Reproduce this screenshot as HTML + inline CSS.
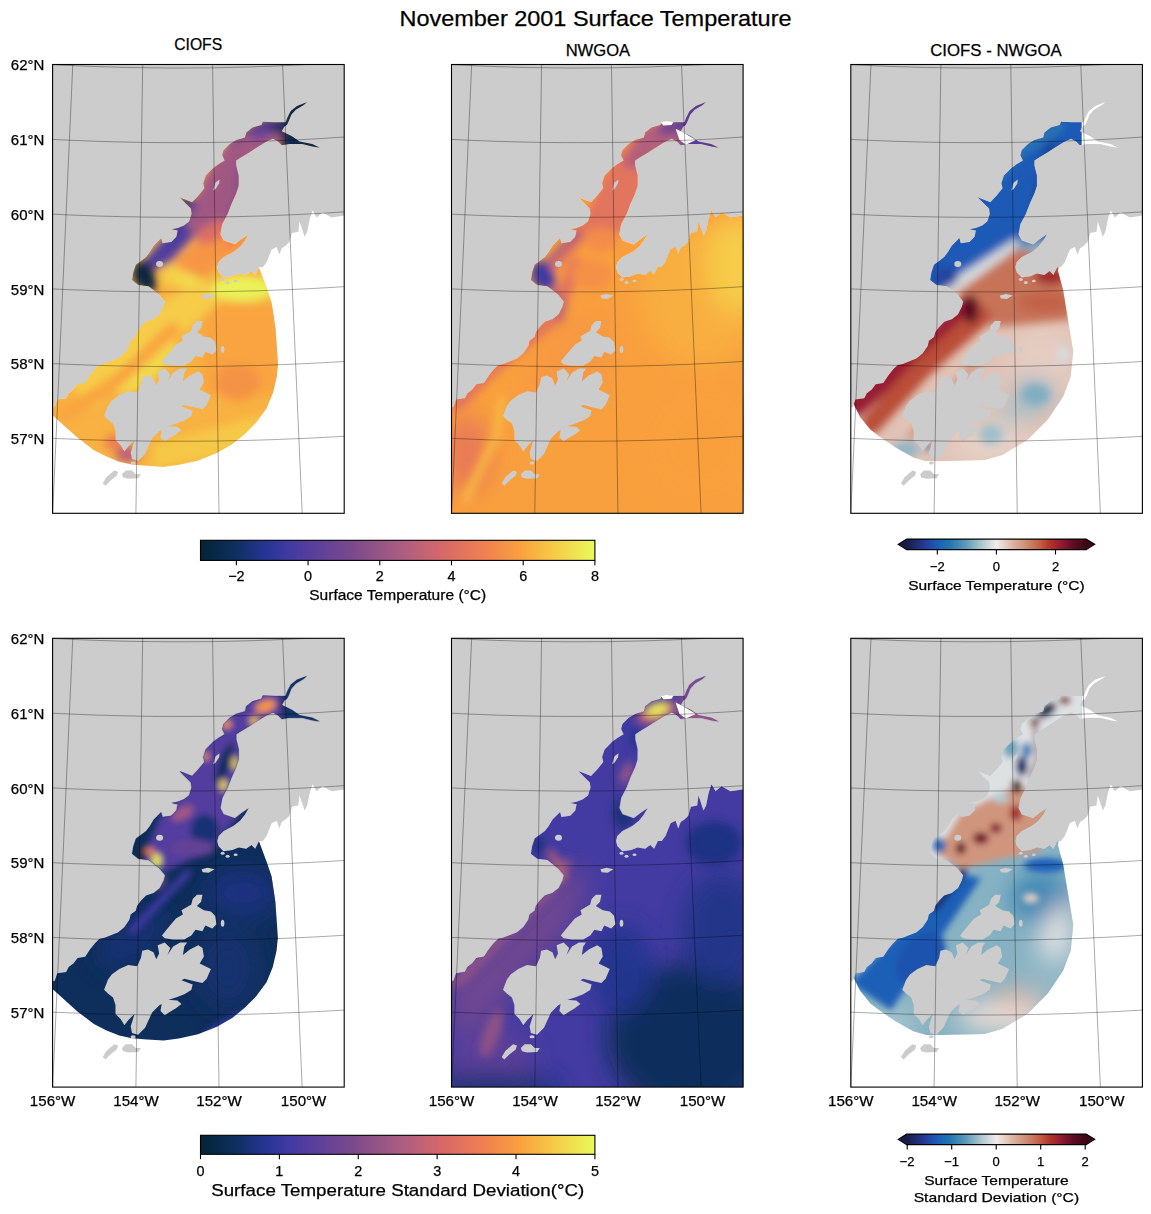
<!DOCTYPE html><html><head><meta charset="utf-8"><style>html,body{margin:0;padding:0;background:#fff;width:1151px;height:1214px;overflow:hidden}svg{display:block}text{font-family:"Liberation Sans", sans-serif;fill:#000;stroke:#000;stroke-width:0.25px}</style></head><body>
<svg width="1151" height="1214" viewBox="0 0 1151 1214">
<defs><clipPath id="sea"><path d="M-2.0 343.0L2.0 342.6L4.6 335.0L13.5 333.7L16.0 328.7L21.0 324.9L24.9 319.8L32.5 318.5L37.5 310.9L42.6 304.6L47.0 300.5L52.0 299.5L65.5 294.1L71.8 289.0L76.9 281.4L78.1 276.3L83.2 272.5L84.5 267.5L88.3 262.4L93.4 257.3L101.0 254.8L107.3 249.7L111.1 242.1L112.4 237.0L107.3 230.7L101.0 225.6L95.9 221.8L85.7 220.5L79.4 215.5L80.7 207.8L83.2 200.2L88.3 196.4L93.4 192.6L97.2 187.6L101.0 181.2L103.5 178.7L108.6 173.6L109.9 178.7L118.7 177.4L123.8 172.3L125.1 166.0L118.7 164.7L125.1 163.5L131.4 160.9L136.5 157.1L139.0 149.5L138.3 144.1L126.8 132.7L139.5 137.8L145.5 131.4L151.8 123.8L150.6 118.7L153.1 111.1L160.7 103.5L165.8 99.7L172.1 95.9L169.6 90.8L170.9 85.7L177.2 79.4L183.6 75.6L192.4 73.1L193.7 68.0L200.0 62.9L208.9 60.4L210.2 57.2L221.6 57.8L233.0 57.8L234.9 52.8L238.1 46.4L244.4 41.4L254.6 37.6L250.8 40.7L243.2 45.2L238.7 50.2L236.2 56.6L234.3 60.4L231.8 62.0L229.2 66.7L239.4 71.8L247.0 76.9L259.7 79.4L267.3 83.2L259.7 81.9L249.5 79.4L236.8 79.4L229.2 80.7L225.4 76.9L220.3 74.3L214.0 76.9L203.9 83.2L196.2 88.3L187.4 93.4L183.6 95.9L183.6 101.0L186.1 111.1L186.1 121.3L183.6 128.9L179.0 139.0L175.0 149.5L169.6 159.6L167.7 169.8L170.9 176.1L182.3 179.9L188.6 174.9L196.2 169.8L192.4 176.1L187.4 182.5L181.0 187.5L170.9 192.6L165.8 197.7L164.5 202.8L165.8 207.8L170.9 212.9L179.7 211.7L186.1 209.1L193.7 210.4L198.8 206.6L202.6 210.4L206.4 202.8L210.2 202.8L214.0 197.7L216.5 191.4L219.1 185.0L224.1 182.5L226.7 190.1L229.2 183.7L233.0 181.2L236.8 177.4L239.4 168.5L245.7 167.3L247.0 157.1L252.0 172.3L254.6 167.3L257.1 154.6L260.0 146.0L264.0 153.0L270.0 148.0L279.0 153.0L293.0 151.0L294.0 151.0L294.0 451.0L-2.0 451.0Z"/></clipPath><clipPath id="domc"><path d="M-2.0 -2.0L272.0 -2.0L272.0 95.0L215.0 140.0L206.0 195.0L206.3 202.8L213.9 223.1L219.0 238.3L222.8 263.7L225.3 299.5L224.0 312.2L220.2 328.7L213.9 343.9L203.7 357.8L192.3 369.3L179.6 379.4L164.4 388.3L145.4 395.9L126.2 400.3L111.0 402.2L90.7 401.0L78.0 399.7L66.6 397.2L54.0 392.1L41.3 385.8L24.8 373.1L12.1 361.7L-0.6 350.2L-2.0 349.0Z"/></clipPath><clipPath id="domd"><path d="M-2.0 -2.0L231.0 -2.0L231.0 140.0L210.0 190.0L207.2 206.6L212.3 225.6L217.4 256.5L222.4 286.5L219.9 311.9L212.3 332.2L197.1 355.0L176.8 375.3L151.4 390.5L133.7 395.6L90.5 396.8L75.3 396.8L62.6 393.0L44.9 382.9L29.6 372.7L19.5 365.1L9.3 352.4L1.7 337.2L-2.0 337.0Z"/></clipPath><filter id="b3" filterUnits="userSpaceOnUse" x="-60" y="-60" width="420" height="570"><feGaussianBlur stdDeviation="3"/></filter><filter id="b4" filterUnits="userSpaceOnUse" x="-60" y="-60" width="420" height="570"><feGaussianBlur stdDeviation="4"/></filter><filter id="b5" filterUnits="userSpaceOnUse" x="-60" y="-60" width="420" height="570"><feGaussianBlur stdDeviation="5"/></filter><filter id="b6" filterUnits="userSpaceOnUse" x="-60" y="-60" width="420" height="570"><feGaussianBlur stdDeviation="6"/></filter><filter id="b8" filterUnits="userSpaceOnUse" x="-60" y="-60" width="420" height="570"><feGaussianBlur stdDeviation="8"/></filter><filter id="b12" filterUnits="userSpaceOnUse" x="-60" y="-60" width="420" height="570"><feGaussianBlur stdDeviation="12"/></filter><linearGradient id="gth" x1="0" x2="1" y1="0" y2="0"><stop offset="0" stop-color="#042333"/><stop offset="0.09" stop-color="#0f2f60"/><stop offset="0.17" stop-color="#273596"/><stop offset="0.22" stop-color="#3f3aa2"/><stop offset="0.27" stop-color="#533d9e"/><stop offset="0.39" stop-color="#7c4a8b"/><stop offset="0.45" stop-color="#945585"/><stop offset="0.51" stop-color="#ab5d81"/><stop offset="0.61" stop-color="#d5686a"/><stop offset="0.72" stop-color="#f08050"/><stop offset="0.81" stop-color="#f9a03e"/><stop offset="0.9" stop-color="#f6cc48"/><stop offset="1" stop-color="#e8fa5b"/></linearGradient><linearGradient id="gba" gradientUnits="userSpaceOnUse" x1="906.7" x2="1086.1" y1="0" y2="0"><stop offset="0" stop-color="#181c43"/><stop offset="0.1" stop-color="#263a96"/><stop offset="0.17" stop-color="#1a5cb8"/><stop offset="0.24" stop-color="#2276b0"/><stop offset="0.33" stop-color="#5d9ab8"/><stop offset="0.41" stop-color="#a8c4cc"/><stop offset="0.5" stop-color="#f1ecea"/><stop offset="0.59" stop-color="#dcb5a4"/><stop offset="0.67" stop-color="#cc8a70"/><stop offset="0.75" stop-color="#bf5a40"/><stop offset="0.8" stop-color="#b03426"/><stop offset="0.86" stop-color="#921a32"/><stop offset="0.93" stop-color="#5c0d24"/><stop offset="1" stop-color="#3c0912"/></linearGradient></defs>
<rect width="1151" height="1214" fill="#fff"/>
<text x="595.5" y="25.6" font-size="21.8" text-anchor="middle" textLength="392" lengthAdjust="spacingAndGlyphs">November 2001 Surface Temperature</text>
<text x="198.2" y="49.9" font-size="16.7" text-anchor="middle" textLength="48" lengthAdjust="spacingAndGlyphs">CIOFS</text>
<text x="597.9" y="55.6" font-size="16.7" text-anchor="middle" textLength="64.5" lengthAdjust="spacingAndGlyphs">NWGOA</text>
<text x="996" y="55.9" font-size="16.7" text-anchor="middle" textLength="131.5" lengthAdjust="spacingAndGlyphs">CIOFS - NWGOA</text>
<g transform="translate(52.6 64.5)">
<clipPath id="c00"><rect width="291.6" height="448.8"/></clipPath>
<g clip-path="url(#c00)">
<rect width="292" height="449" fill="#cccccc"/><path d="M-2.0 343.0L2.0 342.6L4.6 335.0L13.5 333.7L16.0 328.7L21.0 324.9L24.9 319.8L32.5 318.5L37.5 310.9L42.6 304.6L47.0 300.5L52.0 299.5L65.5 294.1L71.8 289.0L76.9 281.4L78.1 276.3L83.2 272.5L84.5 267.5L88.3 262.4L93.4 257.3L101.0 254.8L107.3 249.7L111.1 242.1L112.4 237.0L107.3 230.7L101.0 225.6L95.9 221.8L85.7 220.5L79.4 215.5L80.7 207.8L83.2 200.2L88.3 196.4L93.4 192.6L97.2 187.6L101.0 181.2L103.5 178.7L108.6 173.6L109.9 178.7L118.7 177.4L123.8 172.3L125.1 166.0L118.7 164.7L125.1 163.5L131.4 160.9L136.5 157.1L139.0 149.5L138.3 144.1L126.8 132.7L139.5 137.8L145.5 131.4L151.8 123.8L150.6 118.7L153.1 111.1L160.7 103.5L165.8 99.7L172.1 95.9L169.6 90.8L170.9 85.7L177.2 79.4L183.6 75.6L192.4 73.1L193.7 68.0L200.0 62.9L208.9 60.4L210.2 57.2L221.6 57.8L233.0 57.8L234.9 52.8L238.1 46.4L244.4 41.4L254.6 37.6L250.8 40.7L243.2 45.2L238.7 50.2L236.2 56.6L234.3 60.4L231.8 62.0L229.2 66.7L239.4 71.8L247.0 76.9L259.7 79.4L267.3 83.2L259.7 81.9L249.5 79.4L236.8 79.4L229.2 80.7L225.4 76.9L220.3 74.3L214.0 76.9L203.9 83.2L196.2 88.3L187.4 93.4L183.6 95.9L183.6 101.0L186.1 111.1L186.1 121.3L183.6 128.9L179.0 139.0L175.0 149.5L169.6 159.6L167.7 169.8L170.9 176.1L182.3 179.9L188.6 174.9L196.2 169.8L192.4 176.1L187.4 182.5L181.0 187.5L170.9 192.6L165.8 197.7L164.5 202.8L165.8 207.8L170.9 212.9L179.7 211.7L186.1 209.1L193.7 210.4L198.8 206.6L202.6 210.4L206.4 202.8L210.2 202.8L214.0 197.7L216.5 191.4L219.1 185.0L224.1 182.5L226.7 190.1L229.2 183.7L233.0 181.2L236.8 177.4L239.4 168.5L245.7 167.3L247.0 157.1L252.0 172.3L254.6 167.3L257.1 154.6L260.0 146.0L264.0 153.0L270.0 148.0L279.0 153.0L293.0 151.0L294.0 151.0L294.0 451.0L-2.0 451.0Z" fill="#fff"/><g clip-path="url(#domc)"><g clip-path="url(#sea)"><rect x="-5" y="-5" width="302" height="460" fill="#f8b142"/><g filter="url(#b4)"><path d="M150.0 240.0L230.0 240.0L230.0 330.0L150.0 330.0Z" fill="#f9a43f" fill-opacity="1"/><ellipse cx="185" cy="318" rx="22" ry="18" fill="#f59345" fill-opacity="1"/><path d="M0.0 300.0L150.0 215.0L170.0 235.0L40.0 345.0Z" fill="#f6cc48" fill-opacity="1"/><ellipse cx="90" cy="300" rx="40" ry="18" fill="#f2d94d" fill-opacity="1" transform="rotate(-40 90 300)"/><ellipse cx="190" cy="224" rx="32" ry="13" fill="#ebf258" fill-opacity="1"/><ellipse cx="130" cy="208" rx="22" ry="12" fill="#f5d04a" fill-opacity="1" transform="rotate(-20 130 208)"/><ellipse cx="140" cy="214" rx="16" ry="8" fill="#f2d94d" fill-opacity="1" transform="rotate(-20 140 214)"/><path d="M100.0 380.0L210.0 350.0L200.0 385.0L100.0 405.0Z" fill="#f6c847" fill-opacity="1"/><path d="M12 350L60 320L120 265" fill="none" stroke="#f9a43f" stroke-width="14" stroke-opacity="1" stroke-linecap="round" stroke-linejoin="round"/><ellipse cx="75" cy="390" rx="12" ry="8" fill="#ba6179" fill-opacity="1"/><ellipse cx="62" cy="378" rx="10" ry="8" fill="#ed7e53" fill-opacity="1"/><path d="M120.0 200.0L175.0 150.0L195.0 175.0L150.0 215.0Z" fill="#f69644" fill-opacity="1"/><path d="M135.0 150.0L150.0 115.0L165.0 90.0L190.0 65.0L215.0 52.0L235.0 52.0L240.0 70.0L200.0 95.0L192.0 130.0L185.0 160.0L160.0 172.0L140.0 170.0Z" fill="#a05983" fill-opacity="1"/><ellipse cx="213" cy="66" rx="16" ry="7" fill="#674395" fill-opacity="1" transform="rotate(-25 213 66)"/><ellipse cx="160" cy="168" rx="18" ry="9" fill="#db6e64" fill-opacity="1" transform="rotate(-30 160 168)"/><path d="M228.0 25.0L280.0 25.0L280.0 95.0L228.0 95.0Z" fill="#0b2a4e" fill-opacity="1"/><path d="M232 58L210 57L195 66L175 80" fill="none" stroke="#35389d" stroke-width="4" stroke-opacity="1" stroke-linecap="round" stroke-linejoin="round"/><path d="M187 105L187 130L178 150" fill="none" stroke="#634296" stroke-width="4" stroke-opacity="1" stroke-linecap="round" stroke-linejoin="round"/><path d="M140 140L118 175L100 198" fill="none" stroke="#604198" stroke-width="9" stroke-opacity="1" stroke-linecap="round" stroke-linejoin="round"/><path d="M118.0 165.0L135.0 158.0L142.0 172.0L118.0 198.0L100.0 206.0L88.0 200.0Z" fill="#5a3f9b" fill-opacity="1"/><path d="M80.0 202.0L88.0 195.0L98.0 200.0L104.0 214.0L104.0 226.0L92.0 228.0L80.0 216.0Z" fill="#072741" fill-opacity="1"/><path d="M98 196L112 182L126 170" fill="none" stroke="#3e3aa2" stroke-width="7" stroke-opacity="1" stroke-linecap="round" stroke-linejoin="round"/><ellipse cx="133" cy="137" rx="7" ry="5" fill="#0f2f61" fill-opacity="1"/><ellipse cx="122" cy="165" rx="6" ry="4" fill="#2d3699" fill-opacity="1"/><ellipse cx="226" cy="62" rx="10" ry="6" fill="#0f2f61" fill-opacity="1"/><path d="M192 66L212 58L232 57" fill="none" stroke="#1a3279" stroke-width="4" stroke-opacity="1" stroke-linecap="round" stroke-linejoin="round"/><ellipse cx="183" cy="176" rx="12" ry="6" fill="#f1834f" fill-opacity="1" transform="rotate(-35 183 176)"/></g></g></g><path d="M167.0 115.0L163.0 118.0L160.5 126.0L163.0 124.5L166.5 119.0Z" fill="#cccccc"/><path d="M109.3 297.1L114.9 290.1L123.3 280.3L130.3 276.1L128.9 271.9L138.7 266.3L140.1 260.7L144.3 256.5L149.9 256.5L148.5 263.5L144.3 267.7L151.3 271.9L158.3 273.3L162.5 277.5L163.9 285.9L159.7 290.1L152.7 287.3L149.9 292.9L142.9 291.5L138.7 297.1L131.7 301.3L120.5 301.3L112.1 299.9Z" fill="#cccccc"/><path d="M71.8 387.0L68.0 380.7L62.9 375.6L62.9 366.7L60.4 359.1L55.3 355.3L51.5 351.5L55.3 341.4L59.1 336.3L66.7 330.6L75.6 326.8L84.5 328.0L88.3 319.8L89.7 312.5L95.3 311.1L100.9 313.9L103.7 320.9L106.5 315.3L105.1 306.9L112.1 304.1L117.7 309.7L114.9 316.7L120.5 308.3L127.5 304.1L134.5 304.1L131.7 308.3L130.3 316.7L137.3 311.1L145.7 306.9L149.9 309.7L151.3 318.1L147.1 325.1L158.3 330.7L154.1 340.5L149.9 344.7L142.9 343.3L131.7 340.5L128.9 341.9L140.1 346.1L138.7 351.7L131.7 355.9L124.7 358.7L116.3 361.5L106.5 367.1L99.5 374.1L92.5 389.5L85.5 396.5L79.4 394.6L78.1 388.3L81.9 375.6L75.6 381.9Z" fill="#cccccc"/><path d="M109.3 364.3L114.9 361.5L124.7 362.2L128.9 365.7L123.3 369.9L116.3 374.1L112.1 376.9L107.9 372.7Z" fill="#cccccc"/><path d="M50.2 418.7L54.0 412.4L61.6 406.0L65.5 407.3L64.2 411.1L57.8 416.2L52.8 421.3Z" fill="#cccccc"/><path d="M69.3 409.8L73.1 406.0L79.4 406.0L83.2 409.8L88.3 409.8L85.7 413.7L75.6 414.3L70.5 413.0Z" fill="#cccccc"/><path d="M149.0 231.0L155.0 229.5L162.0 231.0L156.0 234.5L150.0 234.0Z" fill="#cccccc"/><ellipse cx="107" cy="199.5" rx="3.5" ry="3" fill="#cccccc"/><ellipse cx="170" cy="215" rx="2" ry="1.5" fill="#cccccc"/><ellipse cx="175" cy="218" rx="2" ry="1.5" fill="#cccccc"/><ellipse cx="183" cy="216.5" rx="2" ry="1.3" fill="#cccccc"/><ellipse cx="170" cy="285" rx="1.8" ry="3.5" fill="#cccccc"/><ellipse cx="80.5" cy="398.5" rx="2.5" ry="1.5" fill="#cccccc"/>
</g></g>
<g transform="translate(52.6 64.5)">
<g clip-path="url(#c00)">
<path d="M-1.6 485.9L21.8 -36.2 M82.7 488.4L90.6 -34.1 M167 488.4L159.5 -34.1 M251.2 486L228.4 -36.1 M-77.5 369.2L-67.4 369.9L-57.3 370.6L-47.2 371.3L-37.1 371.9L-26.9 372.5L-16.8 373L-6.7 373.5L3.4 374L13.5 374.4L23.6 374.8L33.7 375.2L43.9 375.5L54 375.8L64.1 376L74.2 376.3L84.4 376.4L94.5 376.6L104.6 376.7L114.7 376.7L124.9 376.7L135 376.7L145.1 376.7L155.2 376.6L165.4 376.5L175.5 376.3L185.6 376.1L195.7 375.9L205.9 375.6L216 375.3L226.1 374.9L236.2 374.5L246.3 374.1L256.4 373.7L266.6 373.2L276.7 372.6L286.8 372.1L296.9 371.4L307 370.8L317.1 370.1L327.2 369.4L337.3 368.6L347.4 367.8L357.5 367L367.6 366.1 M-71.9 294.7L-62.1 295.5L-52.3 296.1L-42.4 296.8L-32.6 297.4L-22.8 297.9L-12.9 298.5L-3.1 299L6.7 299.4L16.6 299.8L26.4 300.2L36.3 300.6L46.1 300.9L56 301.2L65.8 301.4L75.6 301.6L85.5 301.8L95.3 301.9L105.2 302L115 302.1L124.9 302.1L134.7 302.1L144.6 302L154.4 302L164.3 301.8L174.1 301.7L184 301.5L193.8 301.2L203.7 301L213.5 300.7L223.4 300.3L233.2 300L243.1 299.5L252.9 299.1L262.7 298.6L272.6 298.1L282.4 297.5L292.2 296.9L302.1 296.3L311.9 295.6L321.7 294.9L331.5 294.2L341.4 293.4L351.2 292.6L361 291.8 M-66.4 220.3L-56.8 221L-47.3 221.6L-37.7 222.3L-28.2 222.9L-18.6 223.4L-9.1 223.9L0.5 224.4L10.1 224.9L19.6 225.3L29.2 225.6L38.8 226L48.3 226.3L57.9 226.6L67.5 226.8L77.1 227L86.6 227.1L96.2 227.3L105.8 227.4L115.4 227.4L124.9 227.4L134.5 227.4L144.1 227.4L153.7 227.3L163.2 227.2L172.8 227L182.4 226.8L191.9 226.6L201.5 226.4L211.1 226.1L220.7 225.7L230.2 225.4L239.8 225L249.4 224.5L258.9 224.1L268.5 223.5L278 223L287.6 222.4L297.2 221.8L306.7 221.2L316.3 220.5L325.8 219.8L335.4 219L344.9 218.2L354.4 217.4 M-60.9 145.9L-51.6 146.5L-42.3 147.2L-33 147.8L-23.7 148.3L-14.5 148.9L-5.2 149.4L4.1 149.8L13.4 150.3L22.7 150.7L32 151L41.3 151.4L50.6 151.7L59.9 151.9L69.2 152.2L78.5 152.3L87.8 152.5L97.1 152.6L106.4 152.7L115.7 152.8L125 152.8L134.3 152.8L143.6 152.7L152.9 152.7L162.2 152.5L171.5 152.4L180.8 152.2L190.1 152L199.4 151.7L208.7 151.5L217.9 151.1L227.2 150.8L236.5 150.4L245.8 150L255.1 149.5L264.4 149L273.7 148.5L283 147.9L292.2 147.3L301.5 146.7L310.8 146L320.1 145.3L329.3 144.6L338.6 143.8L347.9 143 M-55.3 71.4L-46.3 72.1L-37.3 72.7L-28.3 73.3L-19.3 73.8L-10.3 74.3L-1.3 74.8L7.7 75.3L16.7 75.7L25.8 76.1L34.8 76.4L43.8 76.8L52.8 77L61.8 77.3L70.9 77.5L79.9 77.7L88.9 77.9L97.9 78L107 78.1L116 78.1L125 78.1L134 78.1L143.1 78.1L152.1 78L161.1 77.9L170.1 77.8L179.1 77.6L188.2 77.4L197.2 77.1L206.2 76.8L215.2 76.5L224.2 76.2L233.3 75.8L242.3 75.4L251.3 75L260.3 74.5L269.3 74L278.3 73.4L287.3 72.8L296.3 72.2L305.3 71.6L314.3 70.9L323.3 70.2L332.3 69.5L341.3 68.7 M-49.8 -3L-41.1 -2.4L-32.3 -1.8L-23.6 -1.2L-14.9 -0.7L-6.1 -0.2L2.6 0.3L11.3 0.7L20.1 1.1L28.8 1.5L37.6 1.8L46.3 2.2L55.1 2.4L63.8 2.7L72.5 2.9L81.3 3.1L90 3.2L98.8 3.3L107.5 3.4L116.3 3.5L125 3.5L133.8 3.5L142.5 3.4L151.3 3.4L160 3.3L168.8 3.1L177.5 2.9L186.3 2.7L195 2.5L203.8 2.2L212.5 1.9L221.3 1.6L230 1.2L238.7 0.8L247.5 0.4L256.2 -0.1L264.9 -0.6L273.7 -1.1L282.4 -1.6L291.1 -2.2L299.9 -2.9L308.6 -3.5L317.3 -4.2L326 -4.9L334.8 -5.7" fill="none" stroke="#000" stroke-opacity="0.45" stroke-width="0.75"/>
</g>
<rect width="291.6" height="448.8" fill="none" stroke="#000" stroke-width="1.1"/>
</g>
<g transform="translate(451.5 64.5)">
<clipPath id="c01"><rect width="291.6" height="448.8"/></clipPath>
<g clip-path="url(#c01)">
<rect width="292" height="449" fill="#cccccc"/><path d="M-2.0 343.0L2.0 342.6L4.6 335.0L13.5 333.7L16.0 328.7L21.0 324.9L24.9 319.8L32.5 318.5L37.5 310.9L42.6 304.6L47.0 300.5L52.0 299.5L65.5 294.1L71.8 289.0L76.9 281.4L78.1 276.3L83.2 272.5L84.5 267.5L88.3 262.4L93.4 257.3L101.0 254.8L107.3 249.7L111.1 242.1L112.4 237.0L107.3 230.7L101.0 225.6L95.9 221.8L85.7 220.5L79.4 215.5L80.7 207.8L83.2 200.2L88.3 196.4L93.4 192.6L97.2 187.6L101.0 181.2L103.5 178.7L108.6 173.6L109.9 178.7L118.7 177.4L123.8 172.3L125.1 166.0L118.7 164.7L125.1 163.5L131.4 160.9L136.5 157.1L139.0 149.5L138.3 144.1L126.8 132.7L139.5 137.8L145.5 131.4L151.8 123.8L150.6 118.7L153.1 111.1L160.7 103.5L165.8 99.7L172.1 95.9L169.6 90.8L170.9 85.7L177.2 79.4L183.6 75.6L192.4 73.1L193.7 68.0L200.0 62.9L208.9 60.4L210.2 57.2L221.6 57.8L233.0 57.8L234.9 52.8L238.1 46.4L244.4 41.4L254.6 37.6L250.8 40.7L243.2 45.2L238.7 50.2L236.2 56.6L234.3 60.4L231.8 62.0L229.2 66.7L239.4 71.8L247.0 76.9L259.7 79.4L267.3 83.2L259.7 81.9L249.5 79.4L236.8 79.4L229.2 80.7L225.4 76.9L220.3 74.3L214.0 76.9L203.9 83.2L196.2 88.3L187.4 93.4L183.6 95.9L183.6 101.0L186.1 111.1L186.1 121.3L183.6 128.9L179.0 139.0L175.0 149.5L169.6 159.6L167.7 169.8L170.9 176.1L182.3 179.9L188.6 174.9L196.2 169.8L192.4 176.1L187.4 182.5L181.0 187.5L170.9 192.6L165.8 197.7L164.5 202.8L165.8 207.8L170.9 212.9L179.7 211.7L186.1 209.1L193.7 210.4L198.8 206.6L202.6 210.4L206.4 202.8L210.2 202.8L214.0 197.7L216.5 191.4L219.1 185.0L224.1 182.5L226.7 190.1L229.2 183.7L233.0 181.2L236.8 177.4L239.4 168.5L245.7 167.3L247.0 157.1L252.0 172.3L254.6 167.3L257.1 154.6L260.0 146.0L264.0 153.0L270.0 148.0L279.0 153.0L293.0 151.0L294.0 151.0L294.0 451.0L-2.0 451.0Z" fill="#fff"/><g clip-path="url(#sea)"><rect x="-5" y="-5" width="302" height="460" fill="#f9a03e"/><g filter="url(#b12)"><ellipse cx="250" cy="230" rx="60" ry="70" fill="#f8af41" fill-opacity="1"/><ellipse cx="285" cy="200" rx="30" ry="50" fill="#f6cc48" fill-opacity="1"/><ellipse cx="120" cy="300" rx="40" ry="60" fill="#f79942" fill-opacity="1" transform="rotate(30 120 300)"/><ellipse cx="250" cy="380" rx="60" ry="60" fill="#f9a03e" fill-opacity="1"/><ellipse cx="15" cy="390" rx="25" ry="40" fill="#e97a57" fill-opacity="1"/></g><g filter="url(#b4)"><path d="M5 340L45 300L100 255L125 200" fill="none" stroke="#e2745d" stroke-width="14" stroke-opacity="1" stroke-linecap="round" stroke-linejoin="round"/><path d="M50 335L45 372L30 402L14 435" fill="none" stroke="#f8b643" stroke-width="9" stroke-opacity="1" stroke-linecap="round" stroke-linejoin="round"/><path d="M135.0 150.0L150.0 115.0L165.0 90.0L190.0 65.0L215.0 52.0L235.0 52.0L240.0 70.0L200.0 95.0L192.0 130.0L185.0 160.0L160.0 172.0L140.0 170.0Z" fill="#e2745d" fill-opacity="1"/><path d="M170.0 100.0L190.0 65.0L215.0 52.0L235.0 52.0L240.0 70.0L200.0 95.0L185.0 105.0Z" fill="#b25f7d" fill-opacity="1"/><ellipse cx="220" cy="62" rx="14" ry="7" fill="#6d4592" fill-opacity="1" transform="rotate(-25 220 62)"/><path d="M228.0 25.0L280.0 25.0L280.0 95.0L228.0 95.0Z" fill="#543d9e" fill-opacity="1"/><ellipse cx="150" cy="175" rx="18" ry="12" fill="#f38c49" fill-opacity="1"/><path d="M130 160L110 185L95 205" fill="none" stroke="#db6e64" stroke-width="8" stroke-opacity="1" stroke-linecap="round" stroke-linejoin="round"/><path d="M100 205L125 178L140 150" fill="none" stroke="#e0725f" stroke-width="9" stroke-opacity="1" stroke-linecap="round" stroke-linejoin="round"/><path d="M80.0 202.0L88.0 195.0L98.0 200.0L104.0 214.0L104.0 226.0L92.0 228.0L80.0 216.0Z" fill="#3e3aa2" fill-opacity="1"/><path d="M98 196L112 182L126 170" fill="none" stroke="#965685" stroke-width="6" stroke-opacity="1" stroke-linecap="round" stroke-linejoin="round"/><path d="M100 225L112 240L108 255" fill="none" stroke="#ba6179" stroke-width="7" stroke-opacity="1" stroke-linecap="round" stroke-linejoin="round"/><ellipse cx="140" cy="210" rx="20" ry="15" fill="#f49047" fill-opacity="1"/></g></g><path d="M209.0 57.5L215.0 56.8L222.0 57.5L220.0 60.5L212.0 61.0Z" fill="#fff"/><path d="M224.1 64.2L231.8 68.0L244.4 75.6L234.3 80.2L228.0 75.6Z" fill="#fff"/><path d="M167.0 115.0L163.0 118.0L160.5 126.0L163.0 124.5L166.5 119.0Z" fill="#cccccc"/><path d="M109.3 297.1L114.9 290.1L123.3 280.3L130.3 276.1L128.9 271.9L138.7 266.3L140.1 260.7L144.3 256.5L149.9 256.5L148.5 263.5L144.3 267.7L151.3 271.9L158.3 273.3L162.5 277.5L163.9 285.9L159.7 290.1L152.7 287.3L149.9 292.9L142.9 291.5L138.7 297.1L131.7 301.3L120.5 301.3L112.1 299.9Z" fill="#cccccc"/><path d="M71.8 387.0L68.0 380.7L62.9 375.6L62.9 366.7L60.4 359.1L55.3 355.3L51.5 351.5L55.3 341.4L59.1 336.3L66.7 330.6L75.6 326.8L84.5 328.0L88.3 319.8L89.7 312.5L95.3 311.1L100.9 313.9L103.7 320.9L106.5 315.3L105.1 306.9L112.1 304.1L117.7 309.7L114.9 316.7L120.5 308.3L127.5 304.1L134.5 304.1L131.7 308.3L130.3 316.7L137.3 311.1L145.7 306.9L149.9 309.7L151.3 318.1L147.1 325.1L158.3 330.7L154.1 340.5L149.9 344.7L142.9 343.3L131.7 340.5L128.9 341.9L140.1 346.1L138.7 351.7L131.7 355.9L124.7 358.7L116.3 361.5L106.5 367.1L99.5 374.1L92.5 389.5L85.5 396.5L79.4 394.6L78.1 388.3L81.9 375.6L75.6 381.9Z" fill="#cccccc"/><path d="M109.3 364.3L114.9 361.5L124.7 362.2L128.9 365.7L123.3 369.9L116.3 374.1L112.1 376.9L107.9 372.7Z" fill="#cccccc"/><path d="M50.2 418.7L54.0 412.4L61.6 406.0L65.5 407.3L64.2 411.1L57.8 416.2L52.8 421.3Z" fill="#cccccc"/><path d="M69.3 409.8L73.1 406.0L79.4 406.0L83.2 409.8L88.3 409.8L85.7 413.7L75.6 414.3L70.5 413.0Z" fill="#cccccc"/><path d="M149.0 231.0L155.0 229.5L162.0 231.0L156.0 234.5L150.0 234.0Z" fill="#cccccc"/><ellipse cx="107" cy="199.5" rx="3.5" ry="3" fill="#cccccc"/><ellipse cx="170" cy="215" rx="2" ry="1.5" fill="#cccccc"/><ellipse cx="175" cy="218" rx="2" ry="1.5" fill="#cccccc"/><ellipse cx="183" cy="216.5" rx="2" ry="1.3" fill="#cccccc"/><ellipse cx="170" cy="285" rx="1.8" ry="3.5" fill="#cccccc"/><ellipse cx="80.5" cy="398.5" rx="2.5" ry="1.5" fill="#cccccc"/>
</g></g>
<g transform="translate(451.5 64.5)">
<g clip-path="url(#c01)">
<path d="M-1.6 485.9L21.8 -36.2 M82.7 488.4L90.6 -34.1 M167 488.4L159.5 -34.1 M251.2 486L228.4 -36.1 M-77.5 369.2L-67.4 369.9L-57.3 370.6L-47.2 371.3L-37.1 371.9L-26.9 372.5L-16.8 373L-6.7 373.5L3.4 374L13.5 374.4L23.6 374.8L33.7 375.2L43.9 375.5L54 375.8L64.1 376L74.2 376.3L84.4 376.4L94.5 376.6L104.6 376.7L114.7 376.7L124.9 376.7L135 376.7L145.1 376.7L155.2 376.6L165.4 376.5L175.5 376.3L185.6 376.1L195.7 375.9L205.9 375.6L216 375.3L226.1 374.9L236.2 374.5L246.3 374.1L256.4 373.7L266.6 373.2L276.7 372.6L286.8 372.1L296.9 371.4L307 370.8L317.1 370.1L327.2 369.4L337.3 368.6L347.4 367.8L357.5 367L367.6 366.1 M-71.9 294.7L-62.1 295.5L-52.3 296.1L-42.4 296.8L-32.6 297.4L-22.8 297.9L-12.9 298.5L-3.1 299L6.7 299.4L16.6 299.8L26.4 300.2L36.3 300.6L46.1 300.9L56 301.2L65.8 301.4L75.6 301.6L85.5 301.8L95.3 301.9L105.2 302L115 302.1L124.9 302.1L134.7 302.1L144.6 302L154.4 302L164.3 301.8L174.1 301.7L184 301.5L193.8 301.2L203.7 301L213.5 300.7L223.4 300.3L233.2 300L243.1 299.5L252.9 299.1L262.7 298.6L272.6 298.1L282.4 297.5L292.2 296.9L302.1 296.3L311.9 295.6L321.7 294.9L331.5 294.2L341.4 293.4L351.2 292.6L361 291.8 M-66.4 220.3L-56.8 221L-47.3 221.6L-37.7 222.3L-28.2 222.9L-18.6 223.4L-9.1 223.9L0.5 224.4L10.1 224.9L19.6 225.3L29.2 225.6L38.8 226L48.3 226.3L57.9 226.6L67.5 226.8L77.1 227L86.6 227.1L96.2 227.3L105.8 227.4L115.4 227.4L124.9 227.4L134.5 227.4L144.1 227.4L153.7 227.3L163.2 227.2L172.8 227L182.4 226.8L191.9 226.6L201.5 226.4L211.1 226.1L220.7 225.7L230.2 225.4L239.8 225L249.4 224.5L258.9 224.1L268.5 223.5L278 223L287.6 222.4L297.2 221.8L306.7 221.2L316.3 220.5L325.8 219.8L335.4 219L344.9 218.2L354.4 217.4 M-60.9 145.9L-51.6 146.5L-42.3 147.2L-33 147.8L-23.7 148.3L-14.5 148.9L-5.2 149.4L4.1 149.8L13.4 150.3L22.7 150.7L32 151L41.3 151.4L50.6 151.7L59.9 151.9L69.2 152.2L78.5 152.3L87.8 152.5L97.1 152.6L106.4 152.7L115.7 152.8L125 152.8L134.3 152.8L143.6 152.7L152.9 152.7L162.2 152.5L171.5 152.4L180.8 152.2L190.1 152L199.4 151.7L208.7 151.5L217.9 151.1L227.2 150.8L236.5 150.4L245.8 150L255.1 149.5L264.4 149L273.7 148.5L283 147.9L292.2 147.3L301.5 146.7L310.8 146L320.1 145.3L329.3 144.6L338.6 143.8L347.9 143 M-55.3 71.4L-46.3 72.1L-37.3 72.7L-28.3 73.3L-19.3 73.8L-10.3 74.3L-1.3 74.8L7.7 75.3L16.7 75.7L25.8 76.1L34.8 76.4L43.8 76.8L52.8 77L61.8 77.3L70.9 77.5L79.9 77.7L88.9 77.9L97.9 78L107 78.1L116 78.1L125 78.1L134 78.1L143.1 78.1L152.1 78L161.1 77.9L170.1 77.8L179.1 77.6L188.2 77.4L197.2 77.1L206.2 76.8L215.2 76.5L224.2 76.2L233.3 75.8L242.3 75.4L251.3 75L260.3 74.5L269.3 74L278.3 73.4L287.3 72.8L296.3 72.2L305.3 71.6L314.3 70.9L323.3 70.2L332.3 69.5L341.3 68.7 M-49.8 -3L-41.1 -2.4L-32.3 -1.8L-23.6 -1.2L-14.9 -0.7L-6.1 -0.2L2.6 0.3L11.3 0.7L20.1 1.1L28.8 1.5L37.6 1.8L46.3 2.2L55.1 2.4L63.8 2.7L72.5 2.9L81.3 3.1L90 3.2L98.8 3.3L107.5 3.4L116.3 3.5L125 3.5L133.8 3.5L142.5 3.4L151.3 3.4L160 3.3L168.8 3.1L177.5 2.9L186.3 2.7L195 2.5L203.8 2.2L212.5 1.9L221.3 1.6L230 1.2L238.7 0.8L247.5 0.4L256.2 -0.1L264.9 -0.6L273.7 -1.1L282.4 -1.6L291.1 -2.2L299.9 -2.9L308.6 -3.5L317.3 -4.2L326 -4.9L334.8 -5.7" fill="none" stroke="#000" stroke-opacity="0.45" stroke-width="0.75"/>
</g>
<rect width="291.6" height="448.8" fill="none" stroke="#000" stroke-width="1.1"/>
</g>
<g transform="translate(850.8 64.5)">
<clipPath id="c02"><rect width="291.6" height="448.8"/></clipPath>
<g clip-path="url(#c02)">
<rect width="292" height="449" fill="#cccccc"/><path d="M-2.0 343.0L2.0 342.6L4.6 335.0L13.5 333.7L16.0 328.7L21.0 324.9L24.9 319.8L32.5 318.5L37.5 310.9L42.6 304.6L47.0 300.5L52.0 299.5L65.5 294.1L71.8 289.0L76.9 281.4L78.1 276.3L83.2 272.5L84.5 267.5L88.3 262.4L93.4 257.3L101.0 254.8L107.3 249.7L111.1 242.1L112.4 237.0L107.3 230.7L101.0 225.6L95.9 221.8L85.7 220.5L79.4 215.5L80.7 207.8L83.2 200.2L88.3 196.4L93.4 192.6L97.2 187.6L101.0 181.2L103.5 178.7L108.6 173.6L109.9 178.7L118.7 177.4L123.8 172.3L125.1 166.0L118.7 164.7L125.1 163.5L131.4 160.9L136.5 157.1L139.0 149.5L138.3 144.1L126.8 132.7L139.5 137.8L145.5 131.4L151.8 123.8L150.6 118.7L153.1 111.1L160.7 103.5L165.8 99.7L172.1 95.9L169.6 90.8L170.9 85.7L177.2 79.4L183.6 75.6L192.4 73.1L193.7 68.0L200.0 62.9L208.9 60.4L210.2 57.2L221.6 57.8L233.0 57.8L234.9 52.8L238.1 46.4L244.4 41.4L254.6 37.6L250.8 40.7L243.2 45.2L238.7 50.2L236.2 56.6L234.3 60.4L231.8 62.0L229.2 66.7L239.4 71.8L247.0 76.9L259.7 79.4L267.3 83.2L259.7 81.9L249.5 79.4L236.8 79.4L229.2 80.7L225.4 76.9L220.3 74.3L214.0 76.9L203.9 83.2L196.2 88.3L187.4 93.4L183.6 95.9L183.6 101.0L186.1 111.1L186.1 121.3L183.6 128.9L179.0 139.0L175.0 149.5L169.6 159.6L167.7 169.8L170.9 176.1L182.3 179.9L188.6 174.9L196.2 169.8L192.4 176.1L187.4 182.5L181.0 187.5L170.9 192.6L165.8 197.7L164.5 202.8L165.8 207.8L170.9 212.9L179.7 211.7L186.1 209.1L193.7 210.4L198.8 206.6L202.6 210.4L206.4 202.8L210.2 202.8L214.0 197.7L216.5 191.4L219.1 185.0L224.1 182.5L226.7 190.1L229.2 183.7L233.0 181.2L236.8 177.4L239.4 168.5L245.7 167.3L247.0 157.1L252.0 172.3L254.6 167.3L257.1 154.6L260.0 146.0L264.0 153.0L270.0 148.0L279.0 153.0L293.0 151.0L294.0 151.0L294.0 451.0L-2.0 451.0Z" fill="#fff"/><g clip-path="url(#domd)"><g clip-path="url(#sea)"><rect x="-5" y="-5" width="302" height="460" fill="#e1c3b6"/><g filter="url(#b12)"><ellipse cx="190" cy="300" rx="30" ry="40" fill="#e5cdc3" fill-opacity="1"/><ellipse cx="183" cy="330" rx="20" ry="16" fill="#8fb6c5" fill-opacity="1"/><ellipse cx="160" cy="350" rx="18" ry="10" fill="#adc7ce" fill-opacity="1"/><ellipse cx="140" cy="380" rx="40" ry="12" fill="#e9d8d0" fill-opacity="1"/></g><g filter="url(#b4)"><path d="M60.0 232.0L105.0 222.0L165.0 178.0L200.0 176.0L240.0 150.0L240.0 -5.0L60.0 -5.0Z" fill="#1b5ab6" fill-opacity="1"/><path d="M200 80L190 120L185 150" fill="none" stroke="#1d265f" stroke-width="5" stroke-opacity="1" stroke-linecap="round" stroke-linejoin="round"/><path d="M150 110L165 90L210 62" fill="none" stroke="#3381b2" stroke-width="6" stroke-opacity="1" stroke-linecap="round" stroke-linejoin="round"/><path d="M100 222L165 180" fill="none" stroke="#d6dddf" stroke-width="10" stroke-opacity="1" stroke-linecap="round" stroke-linejoin="round"/><ellipse cx="95" cy="212" rx="12" ry="10" fill="#23429e" fill-opacity="1"/><ellipse cx="178" cy="182" rx="14" ry="5" fill="#70a4bd" fill-opacity="1"/><path d="M108.0 228.0L165.0 184.0L215.0 198.0L222.0 255.0L150.0 262.0L110.0 252.0Z" fill="#c67359" fill-opacity="1"/><path d="M3 342L45 305L85 275L118 242" fill="none" stroke="#971e30" stroke-width="22" stroke-opacity="1" stroke-linecap="round" stroke-linejoin="round"/><path d="M20 360L70 305L130 252" fill="none" stroke="#ba4d37" stroke-width="20" stroke-opacity="1" stroke-linecap="round" stroke-linejoin="round"/><path d="M60 372L100 325L138 285" fill="none" stroke="#cd8c72" stroke-width="6" stroke-opacity="1" stroke-linecap="round" stroke-linejoin="round"/><ellipse cx="200" cy="212" rx="16" ry="8" fill="#9f262d" fill-opacity="1"/><ellipse cx="195" cy="238" rx="28" ry="10" fill="#c2644a" fill-opacity="1"/><ellipse cx="120" cy="245" rx="8" ry="14" fill="#5a0d23" fill-opacity="1"/><ellipse cx="55" cy="385" rx="14" ry="8" fill="#8fb6c5" fill-opacity="1"/><ellipse cx="185" cy="330" rx="14" ry="10" fill="#7fadc1" fill-opacity="1"/><ellipse cx="140" cy="370" rx="12" ry="10" fill="#9fbfca" fill-opacity="1"/><ellipse cx="212" cy="290" rx="6" ry="10" fill="#d6dddf" fill-opacity="1"/><ellipse cx="78" cy="382" rx="3" ry="4" fill="#243588" fill-opacity="1"/></g></g></g><path d="M167.0 115.0L163.0 118.0L160.5 126.0L163.0 124.5L166.5 119.0Z" fill="#cccccc"/><path d="M109.3 297.1L114.9 290.1L123.3 280.3L130.3 276.1L128.9 271.9L138.7 266.3L140.1 260.7L144.3 256.5L149.9 256.5L148.5 263.5L144.3 267.7L151.3 271.9L158.3 273.3L162.5 277.5L163.9 285.9L159.7 290.1L152.7 287.3L149.9 292.9L142.9 291.5L138.7 297.1L131.7 301.3L120.5 301.3L112.1 299.9Z" fill="#cccccc"/><path d="M71.8 387.0L68.0 380.7L62.9 375.6L62.9 366.7L60.4 359.1L55.3 355.3L51.5 351.5L55.3 341.4L59.1 336.3L66.7 330.6L75.6 326.8L84.5 328.0L88.3 319.8L89.7 312.5L95.3 311.1L100.9 313.9L103.7 320.9L106.5 315.3L105.1 306.9L112.1 304.1L117.7 309.7L114.9 316.7L120.5 308.3L127.5 304.1L134.5 304.1L131.7 308.3L130.3 316.7L137.3 311.1L145.7 306.9L149.9 309.7L151.3 318.1L147.1 325.1L158.3 330.7L154.1 340.5L149.9 344.7L142.9 343.3L131.7 340.5L128.9 341.9L140.1 346.1L138.7 351.7L131.7 355.9L124.7 358.7L116.3 361.5L106.5 367.1L99.5 374.1L92.5 389.5L85.5 396.5L79.4 394.6L78.1 388.3L81.9 375.6L75.6 381.9Z" fill="#cccccc"/><path d="M109.3 364.3L114.9 361.5L124.7 362.2L128.9 365.7L123.3 369.9L116.3 374.1L112.1 376.9L107.9 372.7Z" fill="#cccccc"/><path d="M50.2 418.7L54.0 412.4L61.6 406.0L65.5 407.3L64.2 411.1L57.8 416.2L52.8 421.3Z" fill="#cccccc"/><path d="M69.3 409.8L73.1 406.0L79.4 406.0L83.2 409.8L88.3 409.8L85.7 413.7L75.6 414.3L70.5 413.0Z" fill="#cccccc"/><path d="M149.0 231.0L155.0 229.5L162.0 231.0L156.0 234.5L150.0 234.0Z" fill="#cccccc"/><ellipse cx="107" cy="199.5" rx="3.5" ry="3" fill="#cccccc"/><ellipse cx="170" cy="215" rx="2" ry="1.5" fill="#cccccc"/><ellipse cx="175" cy="218" rx="2" ry="1.5" fill="#cccccc"/><ellipse cx="183" cy="216.5" rx="2" ry="1.3" fill="#cccccc"/><ellipse cx="170" cy="285" rx="1.8" ry="3.5" fill="#cccccc"/><ellipse cx="80.5" cy="398.5" rx="2.5" ry="1.5" fill="#cccccc"/>
</g></g>
<g transform="translate(850.8 64.5)">
<g clip-path="url(#c02)">
<path d="M-1.6 485.9L21.8 -36.2 M82.7 488.4L90.6 -34.1 M167 488.4L159.5 -34.1 M251.2 486L228.4 -36.1 M-77.5 369.2L-67.4 369.9L-57.3 370.6L-47.2 371.3L-37.1 371.9L-26.9 372.5L-16.8 373L-6.7 373.5L3.4 374L13.5 374.4L23.6 374.8L33.7 375.2L43.9 375.5L54 375.8L64.1 376L74.2 376.3L84.4 376.4L94.5 376.6L104.6 376.7L114.7 376.7L124.9 376.7L135 376.7L145.1 376.7L155.2 376.6L165.4 376.5L175.5 376.3L185.6 376.1L195.7 375.9L205.9 375.6L216 375.3L226.1 374.9L236.2 374.5L246.3 374.1L256.4 373.7L266.6 373.2L276.7 372.6L286.8 372.1L296.9 371.4L307 370.8L317.1 370.1L327.2 369.4L337.3 368.6L347.4 367.8L357.5 367L367.6 366.1 M-71.9 294.7L-62.1 295.5L-52.3 296.1L-42.4 296.8L-32.6 297.4L-22.8 297.9L-12.9 298.5L-3.1 299L6.7 299.4L16.6 299.8L26.4 300.2L36.3 300.6L46.1 300.9L56 301.2L65.8 301.4L75.6 301.6L85.5 301.8L95.3 301.9L105.2 302L115 302.1L124.9 302.1L134.7 302.1L144.6 302L154.4 302L164.3 301.8L174.1 301.7L184 301.5L193.8 301.2L203.7 301L213.5 300.7L223.4 300.3L233.2 300L243.1 299.5L252.9 299.1L262.7 298.6L272.6 298.1L282.4 297.5L292.2 296.9L302.1 296.3L311.9 295.6L321.7 294.9L331.5 294.2L341.4 293.4L351.2 292.6L361 291.8 M-66.4 220.3L-56.8 221L-47.3 221.6L-37.7 222.3L-28.2 222.9L-18.6 223.4L-9.1 223.9L0.5 224.4L10.1 224.9L19.6 225.3L29.2 225.6L38.8 226L48.3 226.3L57.9 226.6L67.5 226.8L77.1 227L86.6 227.1L96.2 227.3L105.8 227.4L115.4 227.4L124.9 227.4L134.5 227.4L144.1 227.4L153.7 227.3L163.2 227.2L172.8 227L182.4 226.8L191.9 226.6L201.5 226.4L211.1 226.1L220.7 225.7L230.2 225.4L239.8 225L249.4 224.5L258.9 224.1L268.5 223.5L278 223L287.6 222.4L297.2 221.8L306.7 221.2L316.3 220.5L325.8 219.8L335.4 219L344.9 218.2L354.4 217.4 M-60.9 145.9L-51.6 146.5L-42.3 147.2L-33 147.8L-23.7 148.3L-14.5 148.9L-5.2 149.4L4.1 149.8L13.4 150.3L22.7 150.7L32 151L41.3 151.4L50.6 151.7L59.9 151.9L69.2 152.2L78.5 152.3L87.8 152.5L97.1 152.6L106.4 152.7L115.7 152.8L125 152.8L134.3 152.8L143.6 152.7L152.9 152.7L162.2 152.5L171.5 152.4L180.8 152.2L190.1 152L199.4 151.7L208.7 151.5L217.9 151.1L227.2 150.8L236.5 150.4L245.8 150L255.1 149.5L264.4 149L273.7 148.5L283 147.9L292.2 147.3L301.5 146.7L310.8 146L320.1 145.3L329.3 144.6L338.6 143.8L347.9 143 M-55.3 71.4L-46.3 72.1L-37.3 72.7L-28.3 73.3L-19.3 73.8L-10.3 74.3L-1.3 74.8L7.7 75.3L16.7 75.7L25.8 76.1L34.8 76.4L43.8 76.8L52.8 77L61.8 77.3L70.9 77.5L79.9 77.7L88.9 77.9L97.9 78L107 78.1L116 78.1L125 78.1L134 78.1L143.1 78.1L152.1 78L161.1 77.9L170.1 77.8L179.1 77.6L188.2 77.4L197.2 77.1L206.2 76.8L215.2 76.5L224.2 76.2L233.3 75.8L242.3 75.4L251.3 75L260.3 74.5L269.3 74L278.3 73.4L287.3 72.8L296.3 72.2L305.3 71.6L314.3 70.9L323.3 70.2L332.3 69.5L341.3 68.7 M-49.8 -3L-41.1 -2.4L-32.3 -1.8L-23.6 -1.2L-14.9 -0.7L-6.1 -0.2L2.6 0.3L11.3 0.7L20.1 1.1L28.8 1.5L37.6 1.8L46.3 2.2L55.1 2.4L63.8 2.7L72.5 2.9L81.3 3.1L90 3.2L98.8 3.3L107.5 3.4L116.3 3.5L125 3.5L133.8 3.5L142.5 3.4L151.3 3.4L160 3.3L168.8 3.1L177.5 2.9L186.3 2.7L195 2.5L203.8 2.2L212.5 1.9L221.3 1.6L230 1.2L238.7 0.8L247.5 0.4L256.2 -0.1L264.9 -0.6L273.7 -1.1L282.4 -1.6L291.1 -2.2L299.9 -2.9L308.6 -3.5L317.3 -4.2L326 -4.9L334.8 -5.7" fill="none" stroke="#000" stroke-opacity="0.45" stroke-width="0.75"/>
</g>
<rect width="291.6" height="448.8" fill="none" stroke="#000" stroke-width="1.1"/>
</g>
<g transform="translate(52.6 638.3)">
<clipPath id="c10"><rect width="291.6" height="448.8"/></clipPath>
<g clip-path="url(#c10)">
<rect width="292" height="449" fill="#cccccc"/><path d="M-2.0 343.0L2.0 342.6L4.6 335.0L13.5 333.7L16.0 328.7L21.0 324.9L24.9 319.8L32.5 318.5L37.5 310.9L42.6 304.6L47.0 300.5L52.0 299.5L65.5 294.1L71.8 289.0L76.9 281.4L78.1 276.3L83.2 272.5L84.5 267.5L88.3 262.4L93.4 257.3L101.0 254.8L107.3 249.7L111.1 242.1L112.4 237.0L107.3 230.7L101.0 225.6L95.9 221.8L85.7 220.5L79.4 215.5L80.7 207.8L83.2 200.2L88.3 196.4L93.4 192.6L97.2 187.6L101.0 181.2L103.5 178.7L108.6 173.6L109.9 178.7L118.7 177.4L123.8 172.3L125.1 166.0L118.7 164.7L125.1 163.5L131.4 160.9L136.5 157.1L139.0 149.5L138.3 144.1L126.8 132.7L139.5 137.8L145.5 131.4L151.8 123.8L150.6 118.7L153.1 111.1L160.7 103.5L165.8 99.7L172.1 95.9L169.6 90.8L170.9 85.7L177.2 79.4L183.6 75.6L192.4 73.1L193.7 68.0L200.0 62.9L208.9 60.4L210.2 57.2L221.6 57.8L233.0 57.8L234.9 52.8L238.1 46.4L244.4 41.4L254.6 37.6L250.8 40.7L243.2 45.2L238.7 50.2L236.2 56.6L234.3 60.4L231.8 62.0L229.2 66.7L239.4 71.8L247.0 76.9L259.7 79.4L267.3 83.2L259.7 81.9L249.5 79.4L236.8 79.4L229.2 80.7L225.4 76.9L220.3 74.3L214.0 76.9L203.9 83.2L196.2 88.3L187.4 93.4L183.6 95.9L183.6 101.0L186.1 111.1L186.1 121.3L183.6 128.9L179.0 139.0L175.0 149.5L169.6 159.6L167.7 169.8L170.9 176.1L182.3 179.9L188.6 174.9L196.2 169.8L192.4 176.1L187.4 182.5L181.0 187.5L170.9 192.6L165.8 197.7L164.5 202.8L165.8 207.8L170.9 212.9L179.7 211.7L186.1 209.1L193.7 210.4L198.8 206.6L202.6 210.4L206.4 202.8L210.2 202.8L214.0 197.7L216.5 191.4L219.1 185.0L224.1 182.5L226.7 190.1L229.2 183.7L233.0 181.2L236.8 177.4L239.4 168.5L245.7 167.3L247.0 157.1L252.0 172.3L254.6 167.3L257.1 154.6L260.0 146.0L264.0 153.0L270.0 148.0L279.0 153.0L293.0 151.0L294.0 151.0L294.0 451.0L-2.0 451.0Z" fill="#fff"/><g clip-path="url(#domc)"><g clip-path="url(#sea)"><rect x="-5" y="-5" width="302" height="460" fill="#0e2e5b"/><g filter="url(#b12)"><ellipse cx="190" cy="255" rx="35" ry="22" fill="#1e3382" fill-opacity="1"/><ellipse cx="175" cy="330" rx="30" ry="40" fill="#15306e" fill-opacity="1"/><ellipse cx="80" cy="300" rx="40" ry="20" fill="#183174" fill-opacity="1" transform="rotate(-40 80 300)"/></g><g filter="url(#b3)"><path d="M150.0 -5.0L260.0 -5.0L260.0 100.0L200.0 160.0L160.0 210.0L110.0 235.0L85.0 230.0L120.0 150.0Z" fill="#533d9e" fill-opacity="1"/><path d="M228.0 25.0L280.0 25.0L280.0 95.0L228.0 95.0Z" fill="#123067" fill-opacity="1"/><ellipse cx="172" cy="125" rx="6" ry="22" fill="#0f2f60" fill-opacity="1" transform="rotate(20 172 125)"/><ellipse cx="152" cy="192" rx="14" ry="16" fill="#183174" fill-opacity="1"/><ellipse cx="88" cy="215" rx="7" ry="10" fill="#0a2a4c" fill-opacity="1"/><ellipse cx="213" cy="68" rx="11" ry="6" fill="#f69544" fill-opacity="1" transform="rotate(-20 213 68)"/><ellipse cx="201.7" cy="82.6" rx="5" ry="4" fill="#f7c246" fill-opacity="1"/><ellipse cx="174" cy="86" rx="5" ry="4" fill="#f89c40" fill-opacity="1"/><ellipse cx="182" cy="125" rx="3" ry="7" fill="#f3d54c" fill-opacity="1"/><ellipse cx="170.6" cy="146.8" rx="4" ry="6" fill="#f3d54c" fill-opacity="1"/><ellipse cx="153" cy="118" rx="3" ry="4" fill="#f89c40" fill-opacity="1"/><ellipse cx="104" cy="222" rx="5" ry="7" fill="#eee853" fill-opacity="1"/><ellipse cx="97" cy="213" rx="5" ry="4" fill="#f08050" fill-opacity="1"/><ellipse cx="130" cy="175" rx="12" ry="6" fill="#a05983" fill-opacity="1" transform="rotate(-30 130 175)"/><ellipse cx="140" cy="210" rx="22" ry="9" fill="#644296" fill-opacity="1"/><path d="M80 292L135 235" fill="none" stroke="#3f3aa2" stroke-width="7" stroke-opacity="1" stroke-linecap="round" stroke-linejoin="round"/><ellipse cx="180" cy="385" rx="30" ry="8" fill="#2c3698" fill-opacity="1" transform="rotate(-25 180 385)"/><ellipse cx="105" cy="245" rx="10" ry="6" fill="#724790" fill-opacity="1" transform="rotate(-40 105 245)"/></g></g></g><path d="M167.0 115.0L163.0 118.0L160.5 126.0L163.0 124.5L166.5 119.0Z" fill="#cccccc"/><path d="M109.3 297.1L114.9 290.1L123.3 280.3L130.3 276.1L128.9 271.9L138.7 266.3L140.1 260.7L144.3 256.5L149.9 256.5L148.5 263.5L144.3 267.7L151.3 271.9L158.3 273.3L162.5 277.5L163.9 285.9L159.7 290.1L152.7 287.3L149.9 292.9L142.9 291.5L138.7 297.1L131.7 301.3L120.5 301.3L112.1 299.9Z" fill="#cccccc"/><path d="M71.8 387.0L68.0 380.7L62.9 375.6L62.9 366.7L60.4 359.1L55.3 355.3L51.5 351.5L55.3 341.4L59.1 336.3L66.7 330.6L75.6 326.8L84.5 328.0L88.3 319.8L89.7 312.5L95.3 311.1L100.9 313.9L103.7 320.9L106.5 315.3L105.1 306.9L112.1 304.1L117.7 309.7L114.9 316.7L120.5 308.3L127.5 304.1L134.5 304.1L131.7 308.3L130.3 316.7L137.3 311.1L145.7 306.9L149.9 309.7L151.3 318.1L147.1 325.1L158.3 330.7L154.1 340.5L149.9 344.7L142.9 343.3L131.7 340.5L128.9 341.9L140.1 346.1L138.7 351.7L131.7 355.9L124.7 358.7L116.3 361.5L106.5 367.1L99.5 374.1L92.5 389.5L85.5 396.5L79.4 394.6L78.1 388.3L81.9 375.6L75.6 381.9Z" fill="#cccccc"/><path d="M109.3 364.3L114.9 361.5L124.7 362.2L128.9 365.7L123.3 369.9L116.3 374.1L112.1 376.9L107.9 372.7Z" fill="#cccccc"/><path d="M50.2 418.7L54.0 412.4L61.6 406.0L65.5 407.3L64.2 411.1L57.8 416.2L52.8 421.3Z" fill="#cccccc"/><path d="M69.3 409.8L73.1 406.0L79.4 406.0L83.2 409.8L88.3 409.8L85.7 413.7L75.6 414.3L70.5 413.0Z" fill="#cccccc"/><path d="M149.0 231.0L155.0 229.5L162.0 231.0L156.0 234.5L150.0 234.0Z" fill="#cccccc"/><ellipse cx="107" cy="199.5" rx="3.5" ry="3" fill="#cccccc"/><ellipse cx="170" cy="215" rx="2" ry="1.5" fill="#cccccc"/><ellipse cx="175" cy="218" rx="2" ry="1.5" fill="#cccccc"/><ellipse cx="183" cy="216.5" rx="2" ry="1.3" fill="#cccccc"/><ellipse cx="170" cy="285" rx="1.8" ry="3.5" fill="#cccccc"/><ellipse cx="80.5" cy="398.5" rx="2.5" ry="1.5" fill="#cccccc"/>
</g></g>
<g transform="translate(52.6 638.3)">
<g clip-path="url(#c10)">
<path d="M-1.6 485.9L21.8 -36.2 M82.7 488.4L90.6 -34.1 M167 488.4L159.5 -34.1 M251.2 486L228.4 -36.1 M-77.5 369.2L-67.4 369.9L-57.3 370.6L-47.2 371.3L-37.1 371.9L-26.9 372.5L-16.8 373L-6.7 373.5L3.4 374L13.5 374.4L23.6 374.8L33.7 375.2L43.9 375.5L54 375.8L64.1 376L74.2 376.3L84.4 376.4L94.5 376.6L104.6 376.7L114.7 376.7L124.9 376.7L135 376.7L145.1 376.7L155.2 376.6L165.4 376.5L175.5 376.3L185.6 376.1L195.7 375.9L205.9 375.6L216 375.3L226.1 374.9L236.2 374.5L246.3 374.1L256.4 373.7L266.6 373.2L276.7 372.6L286.8 372.1L296.9 371.4L307 370.8L317.1 370.1L327.2 369.4L337.3 368.6L347.4 367.8L357.5 367L367.6 366.1 M-71.9 294.7L-62.1 295.5L-52.3 296.1L-42.4 296.8L-32.6 297.4L-22.8 297.9L-12.9 298.5L-3.1 299L6.7 299.4L16.6 299.8L26.4 300.2L36.3 300.6L46.1 300.9L56 301.2L65.8 301.4L75.6 301.6L85.5 301.8L95.3 301.9L105.2 302L115 302.1L124.9 302.1L134.7 302.1L144.6 302L154.4 302L164.3 301.8L174.1 301.7L184 301.5L193.8 301.2L203.7 301L213.5 300.7L223.4 300.3L233.2 300L243.1 299.5L252.9 299.1L262.7 298.6L272.6 298.1L282.4 297.5L292.2 296.9L302.1 296.3L311.9 295.6L321.7 294.9L331.5 294.2L341.4 293.4L351.2 292.6L361 291.8 M-66.4 220.3L-56.8 221L-47.3 221.6L-37.7 222.3L-28.2 222.9L-18.6 223.4L-9.1 223.9L0.5 224.4L10.1 224.9L19.6 225.3L29.2 225.6L38.8 226L48.3 226.3L57.9 226.6L67.5 226.8L77.1 227L86.6 227.1L96.2 227.3L105.8 227.4L115.4 227.4L124.9 227.4L134.5 227.4L144.1 227.4L153.7 227.3L163.2 227.2L172.8 227L182.4 226.8L191.9 226.6L201.5 226.4L211.1 226.1L220.7 225.7L230.2 225.4L239.8 225L249.4 224.5L258.9 224.1L268.5 223.5L278 223L287.6 222.4L297.2 221.8L306.7 221.2L316.3 220.5L325.8 219.8L335.4 219L344.9 218.2L354.4 217.4 M-60.9 145.9L-51.6 146.5L-42.3 147.2L-33 147.8L-23.7 148.3L-14.5 148.9L-5.2 149.4L4.1 149.8L13.4 150.3L22.7 150.7L32 151L41.3 151.4L50.6 151.7L59.9 151.9L69.2 152.2L78.5 152.3L87.8 152.5L97.1 152.6L106.4 152.7L115.7 152.8L125 152.8L134.3 152.8L143.6 152.7L152.9 152.7L162.2 152.5L171.5 152.4L180.8 152.2L190.1 152L199.4 151.7L208.7 151.5L217.9 151.1L227.2 150.8L236.5 150.4L245.8 150L255.1 149.5L264.4 149L273.7 148.5L283 147.9L292.2 147.3L301.5 146.7L310.8 146L320.1 145.3L329.3 144.6L338.6 143.8L347.9 143 M-55.3 71.4L-46.3 72.1L-37.3 72.7L-28.3 73.3L-19.3 73.8L-10.3 74.3L-1.3 74.8L7.7 75.3L16.7 75.7L25.8 76.1L34.8 76.4L43.8 76.8L52.8 77L61.8 77.3L70.9 77.5L79.9 77.7L88.9 77.9L97.9 78L107 78.1L116 78.1L125 78.1L134 78.1L143.1 78.1L152.1 78L161.1 77.9L170.1 77.8L179.1 77.6L188.2 77.4L197.2 77.1L206.2 76.8L215.2 76.5L224.2 76.2L233.3 75.8L242.3 75.4L251.3 75L260.3 74.5L269.3 74L278.3 73.4L287.3 72.8L296.3 72.2L305.3 71.6L314.3 70.9L323.3 70.2L332.3 69.5L341.3 68.7 M-49.8 -3L-41.1 -2.4L-32.3 -1.8L-23.6 -1.2L-14.9 -0.7L-6.1 -0.2L2.6 0.3L11.3 0.7L20.1 1.1L28.8 1.5L37.6 1.8L46.3 2.2L55.1 2.4L63.8 2.7L72.5 2.9L81.3 3.1L90 3.2L98.8 3.3L107.5 3.4L116.3 3.5L125 3.5L133.8 3.5L142.5 3.4L151.3 3.4L160 3.3L168.8 3.1L177.5 2.9L186.3 2.7L195 2.5L203.8 2.2L212.5 1.9L221.3 1.6L230 1.2L238.7 0.8L247.5 0.4L256.2 -0.1L264.9 -0.6L273.7 -1.1L282.4 -1.6L291.1 -2.2L299.9 -2.9L308.6 -3.5L317.3 -4.2L326 -4.9L334.8 -5.7" fill="none" stroke="#000" stroke-opacity="0.45" stroke-width="0.75"/>
</g>
<rect width="291.6" height="448.8" fill="none" stroke="#000" stroke-width="1.1"/>
</g>
<g transform="translate(451.5 638.3)">
<clipPath id="c11"><rect width="291.6" height="448.8"/></clipPath>
<g clip-path="url(#c11)">
<rect width="292" height="449" fill="#cccccc"/><path d="M-2.0 343.0L2.0 342.6L4.6 335.0L13.5 333.7L16.0 328.7L21.0 324.9L24.9 319.8L32.5 318.5L37.5 310.9L42.6 304.6L47.0 300.5L52.0 299.5L65.5 294.1L71.8 289.0L76.9 281.4L78.1 276.3L83.2 272.5L84.5 267.5L88.3 262.4L93.4 257.3L101.0 254.8L107.3 249.7L111.1 242.1L112.4 237.0L107.3 230.7L101.0 225.6L95.9 221.8L85.7 220.5L79.4 215.5L80.7 207.8L83.2 200.2L88.3 196.4L93.4 192.6L97.2 187.6L101.0 181.2L103.5 178.7L108.6 173.6L109.9 178.7L118.7 177.4L123.8 172.3L125.1 166.0L118.7 164.7L125.1 163.5L131.4 160.9L136.5 157.1L139.0 149.5L138.3 144.1L126.8 132.7L139.5 137.8L145.5 131.4L151.8 123.8L150.6 118.7L153.1 111.1L160.7 103.5L165.8 99.7L172.1 95.9L169.6 90.8L170.9 85.7L177.2 79.4L183.6 75.6L192.4 73.1L193.7 68.0L200.0 62.9L208.9 60.4L210.2 57.2L221.6 57.8L233.0 57.8L234.9 52.8L238.1 46.4L244.4 41.4L254.6 37.6L250.8 40.7L243.2 45.2L238.7 50.2L236.2 56.6L234.3 60.4L231.8 62.0L229.2 66.7L239.4 71.8L247.0 76.9L259.7 79.4L267.3 83.2L259.7 81.9L249.5 79.4L236.8 79.4L229.2 80.7L225.4 76.9L220.3 74.3L214.0 76.9L203.9 83.2L196.2 88.3L187.4 93.4L183.6 95.9L183.6 101.0L186.1 111.1L186.1 121.3L183.6 128.9L179.0 139.0L175.0 149.5L169.6 159.6L167.7 169.8L170.9 176.1L182.3 179.9L188.6 174.9L196.2 169.8L192.4 176.1L187.4 182.5L181.0 187.5L170.9 192.6L165.8 197.7L164.5 202.8L165.8 207.8L170.9 212.9L179.7 211.7L186.1 209.1L193.7 210.4L198.8 206.6L202.6 210.4L206.4 202.8L210.2 202.8L214.0 197.7L216.5 191.4L219.1 185.0L224.1 182.5L226.7 190.1L229.2 183.7L233.0 181.2L236.8 177.4L239.4 168.5L245.7 167.3L247.0 157.1L252.0 172.3L254.6 167.3L257.1 154.6L260.0 146.0L264.0 153.0L270.0 148.0L279.0 153.0L293.0 151.0L294.0 151.0L294.0 451.0L-2.0 451.0Z" fill="#fff"/><g clip-path="url(#sea)"><rect x="-5" y="-5" width="302" height="460" fill="#433ba1"/><g filter="url(#b12)"><ellipse cx="240" cy="400" rx="85" ry="75" fill="#0e2e5b" fill-opacity="1"/><ellipse cx="270" cy="290" rx="40" ry="55" fill="#213488" fill-opacity="1"/><ellipse cx="170" cy="330" rx="30" ry="45" fill="#24348f" fill-opacity="1"/><path d="M0.0 340.0L60.0 290.0L110.0 240.0L140.0 230.0L120.0 290.0L80.0 330.0L40.0 380.0L0.0 400.0Z" fill="#6e4691" fill-opacity="1"/><ellipse cx="40" cy="420" rx="40" ry="30" fill="#5d4099" fill-opacity="1"/><ellipse cx="40" cy="449" rx="70" ry="14" fill="#183174" fill-opacity="1"/></g><g filter="url(#b4)"><path d="M5 345L50 300L100 250L115 225" fill="none" stroke="#905386" stroke-width="10" stroke-opacity="1" stroke-linecap="round" stroke-linejoin="round"/><path d="M100 215L112 240" fill="none" stroke="#d1676c" stroke-width="6" stroke-opacity="1" stroke-linecap="round" stroke-linejoin="round"/><ellipse cx="172" cy="175" rx="10" ry="16" fill="#1b327b" fill-opacity="1"/><ellipse cx="88" cy="207" rx="6" ry="10" fill="#1e3382" fill-opacity="1"/><ellipse cx="262" cy="205" rx="28" ry="22" fill="#1e3382" fill-opacity="1"/><ellipse cx="185" cy="100" rx="6" ry="12" fill="#24348f" fill-opacity="1"/><ellipse cx="175" cy="135" rx="5" ry="12" fill="#a05983" fill-opacity="1" transform="rotate(20 175 135)"/><path d="M228.0 25.0L280.0 25.0L280.0 95.0L228.0 95.0Z" fill="#804c8a" fill-opacity="1"/><path d="M228 72L247 77L265 83" fill="none" stroke="#c06276" stroke-width="4" stroke-opacity="1" stroke-linecap="round" stroke-linejoin="round"/><ellipse cx="205" cy="74" rx="20" ry="10" fill="#c86571" fill-opacity="1" transform="rotate(-20 205 74)"/><ellipse cx="206" cy="71" rx="12" ry="6" fill="#ebf157" fill-opacity="1" transform="rotate(-20 206 71)"/><ellipse cx="40" cy="395" rx="8" ry="25" fill="#905386" fill-opacity="1" transform="rotate(20 40 395)"/></g></g><path d="M209.0 57.5L215.0 56.8L222.0 57.5L220.0 60.5L212.0 61.0Z" fill="#fff"/><path d="M224.1 64.2L231.8 68.0L244.4 75.6L234.3 80.2L228.0 75.6Z" fill="#fff"/><path d="M167.0 115.0L163.0 118.0L160.5 126.0L163.0 124.5L166.5 119.0Z" fill="#cccccc"/><path d="M109.3 297.1L114.9 290.1L123.3 280.3L130.3 276.1L128.9 271.9L138.7 266.3L140.1 260.7L144.3 256.5L149.9 256.5L148.5 263.5L144.3 267.7L151.3 271.9L158.3 273.3L162.5 277.5L163.9 285.9L159.7 290.1L152.7 287.3L149.9 292.9L142.9 291.5L138.7 297.1L131.7 301.3L120.5 301.3L112.1 299.9Z" fill="#cccccc"/><path d="M71.8 387.0L68.0 380.7L62.9 375.6L62.9 366.7L60.4 359.1L55.3 355.3L51.5 351.5L55.3 341.4L59.1 336.3L66.7 330.6L75.6 326.8L84.5 328.0L88.3 319.8L89.7 312.5L95.3 311.1L100.9 313.9L103.7 320.9L106.5 315.3L105.1 306.9L112.1 304.1L117.7 309.7L114.9 316.7L120.5 308.3L127.5 304.1L134.5 304.1L131.7 308.3L130.3 316.7L137.3 311.1L145.7 306.9L149.9 309.7L151.3 318.1L147.1 325.1L158.3 330.7L154.1 340.5L149.9 344.7L142.9 343.3L131.7 340.5L128.9 341.9L140.1 346.1L138.7 351.7L131.7 355.9L124.7 358.7L116.3 361.5L106.5 367.1L99.5 374.1L92.5 389.5L85.5 396.5L79.4 394.6L78.1 388.3L81.9 375.6L75.6 381.9Z" fill="#cccccc"/><path d="M109.3 364.3L114.9 361.5L124.7 362.2L128.9 365.7L123.3 369.9L116.3 374.1L112.1 376.9L107.9 372.7Z" fill="#cccccc"/><path d="M50.2 418.7L54.0 412.4L61.6 406.0L65.5 407.3L64.2 411.1L57.8 416.2L52.8 421.3Z" fill="#cccccc"/><path d="M69.3 409.8L73.1 406.0L79.4 406.0L83.2 409.8L88.3 409.8L85.7 413.7L75.6 414.3L70.5 413.0Z" fill="#cccccc"/><path d="M149.0 231.0L155.0 229.5L162.0 231.0L156.0 234.5L150.0 234.0Z" fill="#cccccc"/><ellipse cx="107" cy="199.5" rx="3.5" ry="3" fill="#cccccc"/><ellipse cx="170" cy="215" rx="2" ry="1.5" fill="#cccccc"/><ellipse cx="175" cy="218" rx="2" ry="1.5" fill="#cccccc"/><ellipse cx="183" cy="216.5" rx="2" ry="1.3" fill="#cccccc"/><ellipse cx="170" cy="285" rx="1.8" ry="3.5" fill="#cccccc"/><ellipse cx="80.5" cy="398.5" rx="2.5" ry="1.5" fill="#cccccc"/>
</g></g>
<g transform="translate(451.5 638.3)">
<g clip-path="url(#c11)">
<path d="M-1.6 485.9L21.8 -36.2 M82.7 488.4L90.6 -34.1 M167 488.4L159.5 -34.1 M251.2 486L228.4 -36.1 M-77.5 369.2L-67.4 369.9L-57.3 370.6L-47.2 371.3L-37.1 371.9L-26.9 372.5L-16.8 373L-6.7 373.5L3.4 374L13.5 374.4L23.6 374.8L33.7 375.2L43.9 375.5L54 375.8L64.1 376L74.2 376.3L84.4 376.4L94.5 376.6L104.6 376.7L114.7 376.7L124.9 376.7L135 376.7L145.1 376.7L155.2 376.6L165.4 376.5L175.5 376.3L185.6 376.1L195.7 375.9L205.9 375.6L216 375.3L226.1 374.9L236.2 374.5L246.3 374.1L256.4 373.7L266.6 373.2L276.7 372.6L286.8 372.1L296.9 371.4L307 370.8L317.1 370.1L327.2 369.4L337.3 368.6L347.4 367.8L357.5 367L367.6 366.1 M-71.9 294.7L-62.1 295.5L-52.3 296.1L-42.4 296.8L-32.6 297.4L-22.8 297.9L-12.9 298.5L-3.1 299L6.7 299.4L16.6 299.8L26.4 300.2L36.3 300.6L46.1 300.9L56 301.2L65.8 301.4L75.6 301.6L85.5 301.8L95.3 301.9L105.2 302L115 302.1L124.9 302.1L134.7 302.1L144.6 302L154.4 302L164.3 301.8L174.1 301.7L184 301.5L193.8 301.2L203.7 301L213.5 300.7L223.4 300.3L233.2 300L243.1 299.5L252.9 299.1L262.7 298.6L272.6 298.1L282.4 297.5L292.2 296.9L302.1 296.3L311.9 295.6L321.7 294.9L331.5 294.2L341.4 293.4L351.2 292.6L361 291.8 M-66.4 220.3L-56.8 221L-47.3 221.6L-37.7 222.3L-28.2 222.9L-18.6 223.4L-9.1 223.9L0.5 224.4L10.1 224.9L19.6 225.3L29.2 225.6L38.8 226L48.3 226.3L57.9 226.6L67.5 226.8L77.1 227L86.6 227.1L96.2 227.3L105.8 227.4L115.4 227.4L124.9 227.4L134.5 227.4L144.1 227.4L153.7 227.3L163.2 227.2L172.8 227L182.4 226.8L191.9 226.6L201.5 226.4L211.1 226.1L220.7 225.7L230.2 225.4L239.8 225L249.4 224.5L258.9 224.1L268.5 223.5L278 223L287.6 222.4L297.2 221.8L306.7 221.2L316.3 220.5L325.8 219.8L335.4 219L344.9 218.2L354.4 217.4 M-60.9 145.9L-51.6 146.5L-42.3 147.2L-33 147.8L-23.7 148.3L-14.5 148.9L-5.2 149.4L4.1 149.8L13.4 150.3L22.7 150.7L32 151L41.3 151.4L50.6 151.7L59.9 151.9L69.2 152.2L78.5 152.3L87.8 152.5L97.1 152.6L106.4 152.7L115.7 152.8L125 152.8L134.3 152.8L143.6 152.7L152.9 152.7L162.2 152.5L171.5 152.4L180.8 152.2L190.1 152L199.4 151.7L208.7 151.5L217.9 151.1L227.2 150.8L236.5 150.4L245.8 150L255.1 149.5L264.4 149L273.7 148.5L283 147.9L292.2 147.3L301.5 146.7L310.8 146L320.1 145.3L329.3 144.6L338.6 143.8L347.9 143 M-55.3 71.4L-46.3 72.1L-37.3 72.7L-28.3 73.3L-19.3 73.8L-10.3 74.3L-1.3 74.8L7.7 75.3L16.7 75.7L25.8 76.1L34.8 76.4L43.8 76.8L52.8 77L61.8 77.3L70.9 77.5L79.9 77.7L88.9 77.9L97.9 78L107 78.1L116 78.1L125 78.1L134 78.1L143.1 78.1L152.1 78L161.1 77.9L170.1 77.8L179.1 77.6L188.2 77.4L197.2 77.1L206.2 76.8L215.2 76.5L224.2 76.2L233.3 75.8L242.3 75.4L251.3 75L260.3 74.5L269.3 74L278.3 73.4L287.3 72.8L296.3 72.2L305.3 71.6L314.3 70.9L323.3 70.2L332.3 69.5L341.3 68.7 M-49.8 -3L-41.1 -2.4L-32.3 -1.8L-23.6 -1.2L-14.9 -0.7L-6.1 -0.2L2.6 0.3L11.3 0.7L20.1 1.1L28.8 1.5L37.6 1.8L46.3 2.2L55.1 2.4L63.8 2.7L72.5 2.9L81.3 3.1L90 3.2L98.8 3.3L107.5 3.4L116.3 3.5L125 3.5L133.8 3.5L142.5 3.4L151.3 3.4L160 3.3L168.8 3.1L177.5 2.9L186.3 2.7L195 2.5L203.8 2.2L212.5 1.9L221.3 1.6L230 1.2L238.7 0.8L247.5 0.4L256.2 -0.1L264.9 -0.6L273.7 -1.1L282.4 -1.6L291.1 -2.2L299.9 -2.9L308.6 -3.5L317.3 -4.2L326 -4.9L334.8 -5.7" fill="none" stroke="#000" stroke-opacity="0.45" stroke-width="0.75"/>
</g>
<rect width="291.6" height="448.8" fill="none" stroke="#000" stroke-width="1.1"/>
</g>
<g transform="translate(850.8 638.3)">
<clipPath id="c12"><rect width="291.6" height="448.8"/></clipPath>
<g clip-path="url(#c12)">
<rect width="292" height="449" fill="#cccccc"/><path d="M-2.0 343.0L2.0 342.6L4.6 335.0L13.5 333.7L16.0 328.7L21.0 324.9L24.9 319.8L32.5 318.5L37.5 310.9L42.6 304.6L47.0 300.5L52.0 299.5L65.5 294.1L71.8 289.0L76.9 281.4L78.1 276.3L83.2 272.5L84.5 267.5L88.3 262.4L93.4 257.3L101.0 254.8L107.3 249.7L111.1 242.1L112.4 237.0L107.3 230.7L101.0 225.6L95.9 221.8L85.7 220.5L79.4 215.5L80.7 207.8L83.2 200.2L88.3 196.4L93.4 192.6L97.2 187.6L101.0 181.2L103.5 178.7L108.6 173.6L109.9 178.7L118.7 177.4L123.8 172.3L125.1 166.0L118.7 164.7L125.1 163.5L131.4 160.9L136.5 157.1L139.0 149.5L138.3 144.1L126.8 132.7L139.5 137.8L145.5 131.4L151.8 123.8L150.6 118.7L153.1 111.1L160.7 103.5L165.8 99.7L172.1 95.9L169.6 90.8L170.9 85.7L177.2 79.4L183.6 75.6L192.4 73.1L193.7 68.0L200.0 62.9L208.9 60.4L210.2 57.2L221.6 57.8L233.0 57.8L234.9 52.8L238.1 46.4L244.4 41.4L254.6 37.6L250.8 40.7L243.2 45.2L238.7 50.2L236.2 56.6L234.3 60.4L231.8 62.0L229.2 66.7L239.4 71.8L247.0 76.9L259.7 79.4L267.3 83.2L259.7 81.9L249.5 79.4L236.8 79.4L229.2 80.7L225.4 76.9L220.3 74.3L214.0 76.9L203.9 83.2L196.2 88.3L187.4 93.4L183.6 95.9L183.6 101.0L186.1 111.1L186.1 121.3L183.6 128.9L179.0 139.0L175.0 149.5L169.6 159.6L167.7 169.8L170.9 176.1L182.3 179.9L188.6 174.9L196.2 169.8L192.4 176.1L187.4 182.5L181.0 187.5L170.9 192.6L165.8 197.7L164.5 202.8L165.8 207.8L170.9 212.9L179.7 211.7L186.1 209.1L193.7 210.4L198.8 206.6L202.6 210.4L206.4 202.8L210.2 202.8L214.0 197.7L216.5 191.4L219.1 185.0L224.1 182.5L226.7 190.1L229.2 183.7L233.0 181.2L236.8 177.4L239.4 168.5L245.7 167.3L247.0 157.1L252.0 172.3L254.6 167.3L257.1 154.6L260.0 146.0L264.0 153.0L270.0 148.0L279.0 153.0L293.0 151.0L294.0 151.0L294.0 451.0L-2.0 451.0Z" fill="#fff"/><g clip-path="url(#domd)"><g clip-path="url(#sea)"><rect x="-5" y="-5" width="302" height="460" fill="#87b2c3"/><g filter="url(#b12)"><ellipse cx="190" cy="260" rx="30" ry="25" fill="#3984b3" fill-opacity="1"/><ellipse cx="200" cy="320" rx="25" ry="40" fill="#93b8c6" fill-opacity="1"/><ellipse cx="150" cy="378" rx="45" ry="16" fill="#ebddd7" fill-opacity="1"/><ellipse cx="165" cy="360" rx="25" ry="10" fill="#ddb7a6" fill-opacity="1"/><ellipse cx="210" cy="280" rx="10" ry="16" fill="#ebddd7" fill-opacity="1"/><ellipse cx="205" cy="300" rx="12" ry="20" fill="#f1ecea" fill-opacity="1"/><ellipse cx="40" cy="385" rx="25" ry="12" fill="#b4cbd1" fill-opacity="1"/></g><g filter="url(#b3)"><path d="M60.0 232.0L105.0 222.0L165.0 178.0L200.0 176.0L240.0 150.0L240.0 -5.0L60.0 -5.0Z" fill="#dde1e2" fill-opacity="1"/><path d="M85.0 215.0L110.0 175.0L160.0 150.0L185.0 150.0L200.0 175.0L190.0 212.0L110.0 230.0Z" fill="#d0957d" fill-opacity="1"/><ellipse cx="130" cy="200" rx="8" ry="6" fill="#73132a" fill-opacity="1"/><ellipse cx="165" cy="175" rx="6" ry="8" fill="#a4292b" fill-opacity="1"/><ellipse cx="110" cy="210" rx="5" ry="6" fill="#530c1f" fill-opacity="1"/><ellipse cx="150" cy="160" rx="8" ry="5" fill="#b4cbd1" fill-opacity="1"/><ellipse cx="145" cy="190" rx="6" ry="5" fill="#86172f" fill-opacity="1"/><ellipse cx="196" cy="72" rx="11" ry="6" fill="#181c43" fill-opacity="1" transform="rotate(-35 196 72)"/><ellipse cx="214" cy="62" rx="6" ry="4" fill="#73132a" fill-opacity="1"/><ellipse cx="184" cy="84" rx="5" ry="4" fill="#73132a" fill-opacity="1"/><ellipse cx="171" cy="128" rx="6" ry="10" fill="#1f2b6c" fill-opacity="1"/><ellipse cx="176" cy="112" rx="5" ry="8" fill="#297ab1" fill-opacity="1"/><ellipse cx="166" cy="148" rx="5" ry="7" fill="#3c0912" fill-opacity="1"/><path d="M184 90L187 120L180 140" fill="none" stroke="#86172f" stroke-width="3" stroke-opacity="1" stroke-linecap="round" stroke-linejoin="round"/><ellipse cx="160" cy="110" rx="8" ry="10" fill="#70a4bd" fill-opacity="1"/><ellipse cx="88" cy="207" rx="7" ry="8" fill="#1d67b5" fill-opacity="1"/><path d="M0.0 345.0L105.0 235.0L130.0 240.0L40.0 372.0Z" fill="#1b5eb7" fill-opacity="1"/><path d="M113 232L95 255" fill="none" stroke="#1f2b6c" stroke-width="6" stroke-opacity="1" stroke-linecap="round" stroke-linejoin="round"/><ellipse cx="70" cy="320" rx="20" ry="30" fill="#1d52ae" fill-opacity="1" transform="rotate(40 70 320)"/><ellipse cx="195" cy="227" rx="22" ry="7" fill="#1b5eb7" fill-opacity="1"/><path d="M113 232L100 250L85 270" fill="none" stroke="#1c2458" stroke-width="6" stroke-opacity="1" stroke-linecap="round" stroke-linejoin="round"/><ellipse cx="180" cy="260" rx="8" ry="5" fill="#e5cdc3" fill-opacity="1"/></g></g></g><path d="M167.0 115.0L163.0 118.0L160.5 126.0L163.0 124.5L166.5 119.0Z" fill="#cccccc"/><path d="M109.3 297.1L114.9 290.1L123.3 280.3L130.3 276.1L128.9 271.9L138.7 266.3L140.1 260.7L144.3 256.5L149.9 256.5L148.5 263.5L144.3 267.7L151.3 271.9L158.3 273.3L162.5 277.5L163.9 285.9L159.7 290.1L152.7 287.3L149.9 292.9L142.9 291.5L138.7 297.1L131.7 301.3L120.5 301.3L112.1 299.9Z" fill="#cccccc"/><path d="M71.8 387.0L68.0 380.7L62.9 375.6L62.9 366.7L60.4 359.1L55.3 355.3L51.5 351.5L55.3 341.4L59.1 336.3L66.7 330.6L75.6 326.8L84.5 328.0L88.3 319.8L89.7 312.5L95.3 311.1L100.9 313.9L103.7 320.9L106.5 315.3L105.1 306.9L112.1 304.1L117.7 309.7L114.9 316.7L120.5 308.3L127.5 304.1L134.5 304.1L131.7 308.3L130.3 316.7L137.3 311.1L145.7 306.9L149.9 309.7L151.3 318.1L147.1 325.1L158.3 330.7L154.1 340.5L149.9 344.7L142.9 343.3L131.7 340.5L128.9 341.9L140.1 346.1L138.7 351.7L131.7 355.9L124.7 358.7L116.3 361.5L106.5 367.1L99.5 374.1L92.5 389.5L85.5 396.5L79.4 394.6L78.1 388.3L81.9 375.6L75.6 381.9Z" fill="#cccccc"/><path d="M109.3 364.3L114.9 361.5L124.7 362.2L128.9 365.7L123.3 369.9L116.3 374.1L112.1 376.9L107.9 372.7Z" fill="#cccccc"/><path d="M50.2 418.7L54.0 412.4L61.6 406.0L65.5 407.3L64.2 411.1L57.8 416.2L52.8 421.3Z" fill="#cccccc"/><path d="M69.3 409.8L73.1 406.0L79.4 406.0L83.2 409.8L88.3 409.8L85.7 413.7L75.6 414.3L70.5 413.0Z" fill="#cccccc"/><path d="M149.0 231.0L155.0 229.5L162.0 231.0L156.0 234.5L150.0 234.0Z" fill="#cccccc"/><ellipse cx="107" cy="199.5" rx="3.5" ry="3" fill="#cccccc"/><ellipse cx="170" cy="215" rx="2" ry="1.5" fill="#cccccc"/><ellipse cx="175" cy="218" rx="2" ry="1.5" fill="#cccccc"/><ellipse cx="183" cy="216.5" rx="2" ry="1.3" fill="#cccccc"/><ellipse cx="170" cy="285" rx="1.8" ry="3.5" fill="#cccccc"/><ellipse cx="80.5" cy="398.5" rx="2.5" ry="1.5" fill="#cccccc"/>
</g></g>
<g transform="translate(850.8 638.3)">
<g clip-path="url(#c12)">
<path d="M-1.6 485.9L21.8 -36.2 M82.7 488.4L90.6 -34.1 M167 488.4L159.5 -34.1 M251.2 486L228.4 -36.1 M-77.5 369.2L-67.4 369.9L-57.3 370.6L-47.2 371.3L-37.1 371.9L-26.9 372.5L-16.8 373L-6.7 373.5L3.4 374L13.5 374.4L23.6 374.8L33.7 375.2L43.9 375.5L54 375.8L64.1 376L74.2 376.3L84.4 376.4L94.5 376.6L104.6 376.7L114.7 376.7L124.9 376.7L135 376.7L145.1 376.7L155.2 376.6L165.4 376.5L175.5 376.3L185.6 376.1L195.7 375.9L205.9 375.6L216 375.3L226.1 374.9L236.2 374.5L246.3 374.1L256.4 373.7L266.6 373.2L276.7 372.6L286.8 372.1L296.9 371.4L307 370.8L317.1 370.1L327.2 369.4L337.3 368.6L347.4 367.8L357.5 367L367.6 366.1 M-71.9 294.7L-62.1 295.5L-52.3 296.1L-42.4 296.8L-32.6 297.4L-22.8 297.9L-12.9 298.5L-3.1 299L6.7 299.4L16.6 299.8L26.4 300.2L36.3 300.6L46.1 300.9L56 301.2L65.8 301.4L75.6 301.6L85.5 301.8L95.3 301.9L105.2 302L115 302.1L124.9 302.1L134.7 302.1L144.6 302L154.4 302L164.3 301.8L174.1 301.7L184 301.5L193.8 301.2L203.7 301L213.5 300.7L223.4 300.3L233.2 300L243.1 299.5L252.9 299.1L262.7 298.6L272.6 298.1L282.4 297.5L292.2 296.9L302.1 296.3L311.9 295.6L321.7 294.9L331.5 294.2L341.4 293.4L351.2 292.6L361 291.8 M-66.4 220.3L-56.8 221L-47.3 221.6L-37.7 222.3L-28.2 222.9L-18.6 223.4L-9.1 223.9L0.5 224.4L10.1 224.9L19.6 225.3L29.2 225.6L38.8 226L48.3 226.3L57.9 226.6L67.5 226.8L77.1 227L86.6 227.1L96.2 227.3L105.8 227.4L115.4 227.4L124.9 227.4L134.5 227.4L144.1 227.4L153.7 227.3L163.2 227.2L172.8 227L182.4 226.8L191.9 226.6L201.5 226.4L211.1 226.1L220.7 225.7L230.2 225.4L239.8 225L249.4 224.5L258.9 224.1L268.5 223.5L278 223L287.6 222.4L297.2 221.8L306.7 221.2L316.3 220.5L325.8 219.8L335.4 219L344.9 218.2L354.4 217.4 M-60.9 145.9L-51.6 146.5L-42.3 147.2L-33 147.8L-23.7 148.3L-14.5 148.9L-5.2 149.4L4.1 149.8L13.4 150.3L22.7 150.7L32 151L41.3 151.4L50.6 151.7L59.9 151.9L69.2 152.2L78.5 152.3L87.8 152.5L97.1 152.6L106.4 152.7L115.7 152.8L125 152.8L134.3 152.8L143.6 152.7L152.9 152.7L162.2 152.5L171.5 152.4L180.8 152.2L190.1 152L199.4 151.7L208.7 151.5L217.9 151.1L227.2 150.8L236.5 150.4L245.8 150L255.1 149.5L264.4 149L273.7 148.5L283 147.9L292.2 147.3L301.5 146.7L310.8 146L320.1 145.3L329.3 144.6L338.6 143.8L347.9 143 M-55.3 71.4L-46.3 72.1L-37.3 72.7L-28.3 73.3L-19.3 73.8L-10.3 74.3L-1.3 74.8L7.7 75.3L16.7 75.7L25.8 76.1L34.8 76.4L43.8 76.8L52.8 77L61.8 77.3L70.9 77.5L79.9 77.7L88.9 77.9L97.9 78L107 78.1L116 78.1L125 78.1L134 78.1L143.1 78.1L152.1 78L161.1 77.9L170.1 77.8L179.1 77.6L188.2 77.4L197.2 77.1L206.2 76.8L215.2 76.5L224.2 76.2L233.3 75.8L242.3 75.4L251.3 75L260.3 74.5L269.3 74L278.3 73.4L287.3 72.8L296.3 72.2L305.3 71.6L314.3 70.9L323.3 70.2L332.3 69.5L341.3 68.7 M-49.8 -3L-41.1 -2.4L-32.3 -1.8L-23.6 -1.2L-14.9 -0.7L-6.1 -0.2L2.6 0.3L11.3 0.7L20.1 1.1L28.8 1.5L37.6 1.8L46.3 2.2L55.1 2.4L63.8 2.7L72.5 2.9L81.3 3.1L90 3.2L98.8 3.3L107.5 3.4L116.3 3.5L125 3.5L133.8 3.5L142.5 3.4L151.3 3.4L160 3.3L168.8 3.1L177.5 2.9L186.3 2.7L195 2.5L203.8 2.2L212.5 1.9L221.3 1.6L230 1.2L238.7 0.8L247.5 0.4L256.2 -0.1L264.9 -0.6L273.7 -1.1L282.4 -1.6L291.1 -2.2L299.9 -2.9L308.6 -3.5L317.3 -4.2L326 -4.9L334.8 -5.7" fill="none" stroke="#000" stroke-opacity="0.45" stroke-width="0.75"/>
</g>
<rect width="291.6" height="448.8" fill="none" stroke="#000" stroke-width="1.1"/>
</g>
<text x="44.3" y="444" font-size="13.9" text-anchor="end" textLength="33.5" lengthAdjust="spacingAndGlyphs">57°N</text>
<text x="44.3" y="369.3" font-size="13.9" text-anchor="end" textLength="33.5" lengthAdjust="spacingAndGlyphs">58°N</text>
<text x="44.3" y="294.6" font-size="13.9" text-anchor="end" textLength="33.5" lengthAdjust="spacingAndGlyphs">59°N</text>
<text x="44.3" y="219.8" font-size="13.9" text-anchor="end" textLength="33.5" lengthAdjust="spacingAndGlyphs">60°N</text>
<text x="44.3" y="145.1" font-size="13.9" text-anchor="end" textLength="33.5" lengthAdjust="spacingAndGlyphs">61°N</text>
<text x="44.3" y="70.3" font-size="13.9" text-anchor="end" textLength="33.5" lengthAdjust="spacingAndGlyphs">62°N</text>
<text x="44.3" y="1017.8" font-size="13.9" text-anchor="end" textLength="33.5" lengthAdjust="spacingAndGlyphs">57°N</text>
<text x="44.3" y="943.1" font-size="13.9" text-anchor="end" textLength="33.5" lengthAdjust="spacingAndGlyphs">58°N</text>
<text x="44.3" y="868.4" font-size="13.9" text-anchor="end" textLength="33.5" lengthAdjust="spacingAndGlyphs">59°N</text>
<text x="44.3" y="793.6" font-size="13.9" text-anchor="end" textLength="33.5" lengthAdjust="spacingAndGlyphs">60°N</text>
<text x="44.3" y="718.9" font-size="13.9" text-anchor="end" textLength="33.5" lengthAdjust="spacingAndGlyphs">61°N</text>
<text x="44.3" y="644.1" font-size="13.9" text-anchor="end" textLength="33.5" lengthAdjust="spacingAndGlyphs">62°N</text>
<text x="52.6" y="1106.4" font-size="13.9" text-anchor="middle" textLength="45.5" lengthAdjust="spacingAndGlyphs">156°W</text>
<text x="451.5" y="1106.4" font-size="13.9" text-anchor="middle" textLength="45.5" lengthAdjust="spacingAndGlyphs">156°W</text>
<text x="850.8" y="1106.4" font-size="13.9" text-anchor="middle" textLength="45.5" lengthAdjust="spacingAndGlyphs">156°W</text>
<text x="136" y="1106.4" font-size="13.9" text-anchor="middle" textLength="45.5" lengthAdjust="spacingAndGlyphs">154°W</text>
<text x="534.9" y="1106.4" font-size="13.9" text-anchor="middle" textLength="45.5" lengthAdjust="spacingAndGlyphs">154°W</text>
<text x="934.2" y="1106.4" font-size="13.9" text-anchor="middle" textLength="45.5" lengthAdjust="spacingAndGlyphs">154°W</text>
<text x="219" y="1106.4" font-size="13.9" text-anchor="middle" textLength="45.5" lengthAdjust="spacingAndGlyphs">152°W</text>
<text x="617.9" y="1106.4" font-size="13.9" text-anchor="middle" textLength="45.5" lengthAdjust="spacingAndGlyphs">152°W</text>
<text x="1017.2" y="1106.4" font-size="13.9" text-anchor="middle" textLength="45.5" lengthAdjust="spacingAndGlyphs">152°W</text>
<text x="303.6" y="1106.4" font-size="13.9" text-anchor="middle" textLength="45.5" lengthAdjust="spacingAndGlyphs">150°W</text>
<text x="702.5" y="1106.4" font-size="13.9" text-anchor="middle" textLength="45.5" lengthAdjust="spacingAndGlyphs">150°W</text>
<text x="1101.8" y="1106.4" font-size="13.9" text-anchor="middle" textLength="45.5" lengthAdjust="spacingAndGlyphs">150°W</text>
<rect x="200.5" y="540.3" width="394.4" height="20.1" fill="url(#gth)" stroke="#000" stroke-width="1.1"/><line x1="236.355" x2="236.355" y1="560.4" y2="565.3" stroke="#000" stroke-width="1.1"/><text x="236.355" y="580.8" font-size="14.4" text-anchor="middle">−2</text><line x1="308.064" x2="308.064" y1="560.4" y2="565.3" stroke="#000" stroke-width="1.1"/><text x="308.064" y="580.8" font-size="14.4" text-anchor="middle">0</text><line x1="379.773" x2="379.773" y1="560.4" y2="565.3" stroke="#000" stroke-width="1.1"/><text x="379.773" y="580.8" font-size="14.4" text-anchor="middle">2</text><line x1="451.482" x2="451.482" y1="560.4" y2="565.3" stroke="#000" stroke-width="1.1"/><text x="451.482" y="580.8" font-size="14.4" text-anchor="middle">4</text><line x1="523.191" x2="523.191" y1="560.4" y2="565.3" stroke="#000" stroke-width="1.1"/><text x="523.191" y="580.8" font-size="14.4" text-anchor="middle">6</text><line x1="594.9" x2="594.9" y1="560.4" y2="565.3" stroke="#000" stroke-width="1.1"/><text x="594.9" y="580.8" font-size="14.4" text-anchor="middle">8</text><text x="397.7" y="599.8" font-size="14.4" text-anchor="middle" textLength="177" lengthAdjust="spacingAndGlyphs">Surface Temperature (°C)</text><rect x="200.5" y="1135.3" width="394.4" height="19" fill="url(#gth)" stroke="#000" stroke-width="1.1"/><line x1="200.5" x2="200.5" y1="1154.3" y2="1159.2" stroke="#000" stroke-width="1.1"/><text x="200.5" y="1175.9" font-size="14.4" text-anchor="middle">0</text><line x1="279.38" x2="279.38" y1="1154.3" y2="1159.2" stroke="#000" stroke-width="1.1"/><text x="279.38" y="1175.9" font-size="14.4" text-anchor="middle">1</text><line x1="358.26" x2="358.26" y1="1154.3" y2="1159.2" stroke="#000" stroke-width="1.1"/><text x="358.26" y="1175.9" font-size="14.4" text-anchor="middle">2</text><line x1="437.14" x2="437.14" y1="1154.3" y2="1159.2" stroke="#000" stroke-width="1.1"/><text x="437.14" y="1175.9" font-size="14.4" text-anchor="middle">3</text><line x1="516.02" x2="516.02" y1="1154.3" y2="1159.2" stroke="#000" stroke-width="1.1"/><text x="516.02" y="1175.9" font-size="14.4" text-anchor="middle">4</text><line x1="594.9" x2="594.9" y1="1154.3" y2="1159.2" stroke="#000" stroke-width="1.1"/><text x="594.9" y="1175.9" font-size="14.4" text-anchor="middle">5</text><text x="397.7" y="1195.9" font-size="16.3" text-anchor="middle" textLength="373" lengthAdjust="spacingAndGlyphs">Surface Temperature Standard Deviation(°C)</text><path d="M898.1 544.35L906.7 539.1L1086.1 539.1L1094.7 544.35L1086.1 549.6L906.7 549.6Z" fill="url(#gba)"/><path d="M898.1 544.35L906.7 539.1L1086.1 539.1L1094.7 544.35L1086.1 549.6L906.7 549.6Z" fill="none" stroke="#000" stroke-width="1.1"/><line x1="937.3" x2="937.3" y1="549.6" y2="554.5" stroke="#000" stroke-width="1.1"/><text x="937.3" y="570.6" font-size="13" text-anchor="middle">−2</text><line x1="996.4" x2="996.4" y1="549.6" y2="554.5" stroke="#000" stroke-width="1.1"/><text x="996.4" y="570.6" font-size="13" text-anchor="middle">0</text><line x1="1055.5" x2="1055.5" y1="549.6" y2="554.5" stroke="#000" stroke-width="1.1"/><text x="1055.5" y="570.6" font-size="13" text-anchor="middle">2</text><text x="996.4" y="589.75" font-size="13" text-anchor="middle" textLength="176.5" lengthAdjust="spacingAndGlyphs">Surface Temperature (°C)</text><path d="M898.1 1139.35L906.7 1134.1L1086.1 1134.1L1094.7 1139.35L1086.1 1144.6L906.7 1144.6Z" fill="url(#gba)"/><path d="M898.1 1139.35L906.7 1134.1L1086.1 1134.1L1094.7 1139.35L1086.1 1144.6L906.7 1144.6Z" fill="none" stroke="#000" stroke-width="1.1"/><line x1="907.2" x2="907.2" y1="1144.6" y2="1149.5" stroke="#000" stroke-width="1.1"/><text x="907.2" y="1165.6" font-size="13" text-anchor="middle">−2</text><line x1="951.7" x2="951.7" y1="1144.6" y2="1149.5" stroke="#000" stroke-width="1.1"/><text x="951.7" y="1165.6" font-size="13" text-anchor="middle">−1</text><line x1="996.2" x2="996.2" y1="1144.6" y2="1149.5" stroke="#000" stroke-width="1.1"/><text x="996.2" y="1165.6" font-size="13" text-anchor="middle">0</text><line x1="1040.7" x2="1040.7" y1="1144.6" y2="1149.5" stroke="#000" stroke-width="1.1"/><text x="1040.7" y="1165.6" font-size="13" text-anchor="middle">1</text><line x1="1085.2" x2="1085.2" y1="1144.6" y2="1149.5" stroke="#000" stroke-width="1.1"/><text x="1085.2" y="1165.6" font-size="13" text-anchor="middle">2</text><text x="996.4" y="1184.75" font-size="13" text-anchor="middle" textLength="144.5" lengthAdjust="spacingAndGlyphs">Surface Temperature</text><text x="996.4" y="1201.5" font-size="13" text-anchor="middle" textLength="165.5" lengthAdjust="spacingAndGlyphs">Standard Deviation (°C)</text>
</svg></body></html>
